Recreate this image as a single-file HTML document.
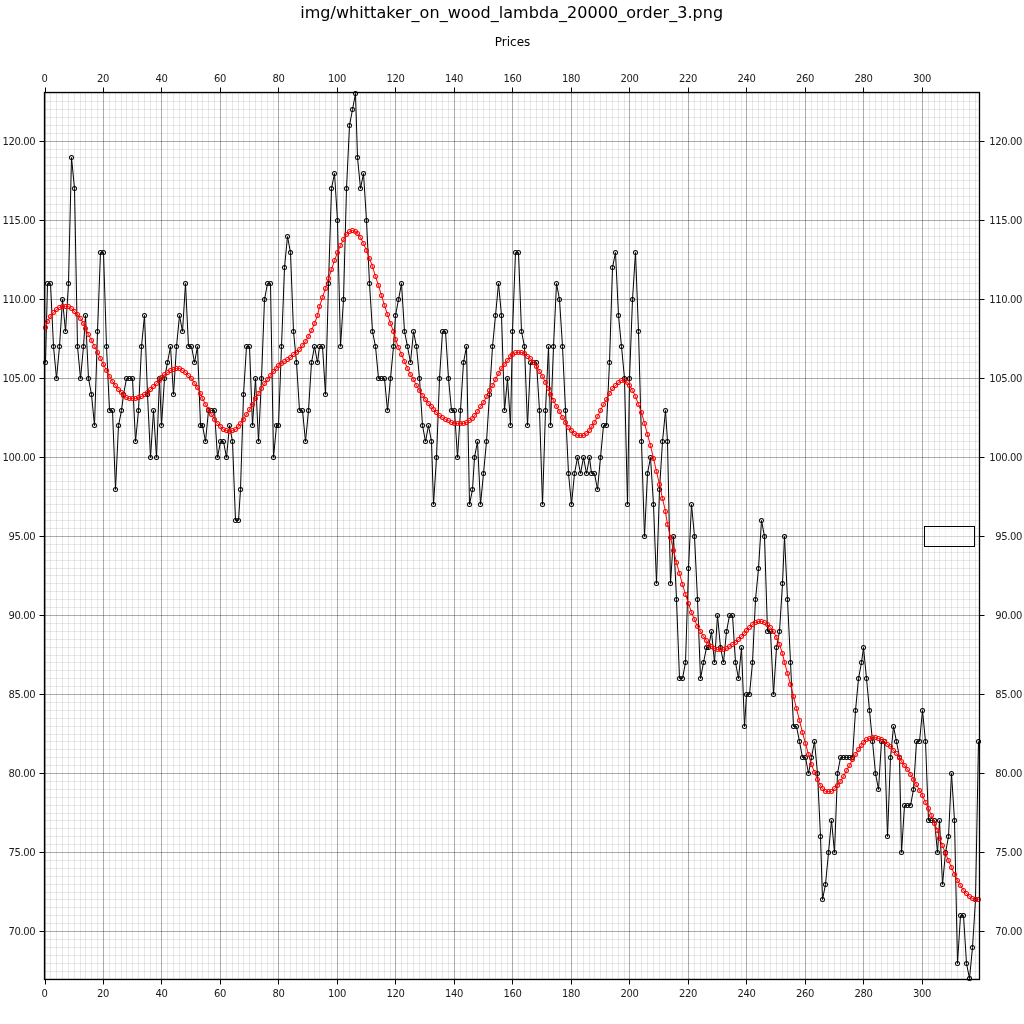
<!DOCTYPE html><html><head><meta charset="utf-8"><title>Prices</title><style>html,body{margin:0;padding:0;background:#fff}svg{display:block}</style></head><body><svg width="1024" height="1024" viewBox="0 0 1024 1024">
<rect width="1024" height="1024" fill="#fff"/>
<path d="M50.5 92.5V979.5M56.5 92.5V979.5M62.5 92.5V979.5M68.5 92.5V979.5M74.5 92.5V979.5M80.5 92.5V979.5M85.5 92.5V979.5M91.5 92.5V979.5M97.5 92.5V979.5M109.5 92.5V979.5M115.5 92.5V979.5M121.5 92.5V979.5M126.5 92.5V979.5M132.5 92.5V979.5M138.5 92.5V979.5M144.5 92.5V979.5M150.5 92.5V979.5M156.5 92.5V979.5M167.5 92.5V979.5M173.5 92.5V979.5M179.5 92.5V979.5M185.5 92.5V979.5M191.5 92.5V979.5M197.5 92.5V979.5M202.5 92.5V979.5M208.5 92.5V979.5M214.5 92.5V979.5M226.5 92.5V979.5M232.5 92.5V979.5M238.5 92.5V979.5M243.5 92.5V979.5M249.5 92.5V979.5M255.5 92.5V979.5M261.5 92.5V979.5M267.5 92.5V979.5M273.5 92.5V979.5M284.5 92.5V979.5M290.5 92.5V979.5M296.5 92.5V979.5M302.5 92.5V979.5M308.5 92.5V979.5M314.5 92.5V979.5M319.5 92.5V979.5M325.5 92.5V979.5M331.5 92.5V979.5M343.5 92.5V979.5M349.5 92.5V979.5M355.5 92.5V979.5M360.5 92.5V979.5M366.5 92.5V979.5M372.5 92.5V979.5M378.5 92.5V979.5M384.5 92.5V979.5M390.5 92.5V979.5M401.5 92.5V979.5M407.5 92.5V979.5M413.5 92.5V979.5M419.5 92.5V979.5M425.5 92.5V979.5M431.5 92.5V979.5M436.5 92.5V979.5M442.5 92.5V979.5M448.5 92.5V979.5M460.5 92.5V979.5M466.5 92.5V979.5M472.5 92.5V979.5M477.5 92.5V979.5M483.5 92.5V979.5M489.5 92.5V979.5M495.5 92.5V979.5M501.5 92.5V979.5M507.5 92.5V979.5M518.5 92.5V979.5M524.5 92.5V979.5M530.5 92.5V979.5M536.5 92.5V979.5M542.5 92.5V979.5M548.5 92.5V979.5M553.5 92.5V979.5M559.5 92.5V979.5M565.5 92.5V979.5M577.5 92.5V979.5M583.5 92.5V979.5M589.5 92.5V979.5M594.5 92.5V979.5M600.5 92.5V979.5M606.5 92.5V979.5M612.5 92.5V979.5M618.5 92.5V979.5M624.5 92.5V979.5M635.5 92.5V979.5M641.5 92.5V979.5M647.5 92.5V979.5M653.5 92.5V979.5M659.5 92.5V979.5M665.5 92.5V979.5M670.5 92.5V979.5M676.5 92.5V979.5M682.5 92.5V979.5M694.5 92.5V979.5M700.5 92.5V979.5M706.5 92.5V979.5M711.5 92.5V979.5M717.5 92.5V979.5M723.5 92.5V979.5M729.5 92.5V979.5M735.5 92.5V979.5M741.5 92.5V979.5M752.5 92.5V979.5M758.5 92.5V979.5M764.5 92.5V979.5M770.5 92.5V979.5M776.5 92.5V979.5M782.5 92.5V979.5M787.5 92.5V979.5M793.5 92.5V979.5M799.5 92.5V979.5M811.5 92.5V979.5M817.5 92.5V979.5M822.5 92.5V979.5M828.5 92.5V979.5M834.5 92.5V979.5M840.5 92.5V979.5M846.5 92.5V979.5M852.5 92.5V979.5M858.5 92.5V979.5M869.5 92.5V979.5M875.5 92.5V979.5M881.5 92.5V979.5M887.5 92.5V979.5M893.5 92.5V979.5M899.5 92.5V979.5M904.5 92.5V979.5M910.5 92.5V979.5M916.5 92.5V979.5M928.5 92.5V979.5M934.5 92.5V979.5M939.5 92.5V979.5M945.5 92.5V979.5M951.5 92.5V979.5M957.5 92.5V979.5M963.5 92.5V979.5M969.5 92.5V979.5M975.5 92.5V979.5" stroke="#000" stroke-opacity="0.09" stroke-width="1" fill="none"/>
<path d="M44.5 978.5H979.5M44.5 971.5H979.5M44.5 963.5H979.5M44.5 955.5H979.5M44.5 947.5H979.5M44.5 939.5H979.5M44.5 923.5H979.5M44.5 915.5H979.5M44.5 907.5H979.5M44.5 899.5H979.5M44.5 892.5H979.5M44.5 884.5H979.5M44.5 876.5H979.5M44.5 868.5H979.5M44.5 860.5H979.5M44.5 844.5H979.5M44.5 836.5H979.5M44.5 828.5H979.5M44.5 820.5H979.5M44.5 813.5H979.5M44.5 805.5H979.5M44.5 797.5H979.5M44.5 789.5H979.5M44.5 781.5H979.5M44.5 765.5H979.5M44.5 757.5H979.5M44.5 749.5H979.5M44.5 741.5H979.5M44.5 734.5H979.5M44.5 726.5H979.5M44.5 718.5H979.5M44.5 710.5H979.5M44.5 702.5H979.5M44.5 686.5H979.5M44.5 678.5H979.5M44.5 670.5H979.5M44.5 662.5H979.5M44.5 655.5H979.5M44.5 647.5H979.5M44.5 639.5H979.5M44.5 631.5H979.5M44.5 623.5H979.5M44.5 607.5H979.5M44.5 599.5H979.5M44.5 591.5H979.5M44.5 583.5H979.5M44.5 575.5H979.5M44.5 568.5H979.5M44.5 560.5H979.5M44.5 552.5H979.5M44.5 544.5H979.5M44.5 528.5H979.5M44.5 520.5H979.5M44.5 512.5H979.5M44.5 504.5H979.5M44.5 496.5H979.5M44.5 489.5H979.5M44.5 481.5H979.5M44.5 473.5H979.5M44.5 465.5H979.5M44.5 449.5H979.5M44.5 441.5H979.5M44.5 433.5H979.5M44.5 425.5H979.5M44.5 417.5H979.5M44.5 410.5H979.5M44.5 402.5H979.5M44.5 394.5H979.5M44.5 386.5H979.5M44.5 370.5H979.5M44.5 362.5H979.5M44.5 354.5H979.5M44.5 346.5H979.5M44.5 338.5H979.5M44.5 331.5H979.5M44.5 323.5H979.5M44.5 315.5H979.5M44.5 307.5H979.5M44.5 291.5H979.5M44.5 283.5H979.5M44.5 275.5H979.5M44.5 267.5H979.5M44.5 259.5H979.5M44.5 252.5H979.5M44.5 244.5H979.5M44.5 236.5H979.5M44.5 228.5H979.5M44.5 212.5H979.5M44.5 204.5H979.5M44.5 196.5H979.5M44.5 188.5H979.5M44.5 180.5H979.5M44.5 173.5H979.5M44.5 165.5H979.5M44.5 157.5H979.5M44.5 149.5H979.5M44.5 133.5H979.5M44.5 125.5H979.5M44.5 117.5H979.5M44.5 109.5H979.5M44.5 101.5H979.5M44.5 93.5H979.5" stroke="#000" stroke-opacity="0.09" stroke-width="1" fill="none"/>
<path d="M45.5 92.5V979.5M103.5 92.5V979.5M161.5 92.5V979.5M220.5 92.5V979.5M278.5 92.5V979.5M337.5 92.5V979.5M395.5 92.5V979.5M454.5 92.5V979.5M512.5 92.5V979.5M571.5 92.5V979.5M629.5 92.5V979.5M688.5 92.5V979.5M746.5 92.5V979.5M805.5 92.5V979.5M863.5 92.5V979.5M922.5 92.5V979.5" stroke="#000" stroke-opacity="0.33" stroke-width="1" fill="none"/>
<path d="M44.5 931.5H979.5M44.5 852.5H979.5M44.5 773.5H979.5M44.5 694.5H979.5M44.5 615.5H979.5M44.5 536.5H979.5M44.5 457.5H979.5M44.5 378.5H979.5M44.5 299.5H979.5M44.5 220.5H979.5M44.5 141.5H979.5" stroke="#000" stroke-opacity="0.33" stroke-width="1" fill="none"/>
<polyline points="45.5,362.5 47.5,283.5 50.5,283.5 53.5,346.5 56.5,378.5 59.5,346.5 62.5,299.5 65.5,331.5 68.5,283.5 71.5,157.5 74.5,188.5 77.5,346.5 80.5,378.5 83.5,346.5 85.5,315.5 88.5,378.5 91.5,394.5 94.5,425.5 97.5,331.5 100.5,252.5 103.5,252.5 106.5,346.5 109.5,410.5 112.5,410.5 115.5,489.5 118.5,425.5 121.5,410.5 123.5,394.5 126.5,378.5 129.5,378.5 132.5,378.5 135.5,441.5 138.5,410.5 141.5,346.5 144.5,315.5 147.5,394.5 150.5,457.5 153.5,410.5 156.5,457.5 159.5,378.5 161.5,425.5 164.5,378.5 167.5,362.5 170.5,346.5 173.5,394.5 176.5,346.5 179.5,315.5 182.5,331.5 185.5,283.5 188.5,346.5 191.5,346.5 194.5,362.5 197.5,346.5 200.5,425.5 202.5,425.5 205.5,441.5 208.5,410.5 211.5,410.5 214.5,410.5 217.5,457.5 220.5,441.5 223.5,441.5 226.5,457.5 229.5,425.5 232.5,441.5 235.5,520.5 238.5,520.5 240.5,489.5 243.5,394.5 246.5,346.5 249.5,346.5 252.5,425.5 255.5,378.5 258.5,441.5 261.5,378.5 264.5,299.5 267.5,283.5 270.5,283.5 273.5,457.5 276.5,425.5 278.5,425.5 281.5,346.5 284.5,267.5 287.5,236.5 290.5,252.5 293.5,331.5 296.5,362.5 299.5,410.5 302.5,410.5 305.5,441.5 308.5,410.5 311.5,362.5 314.5,346.5 317.5,362.5 319.5,346.5 322.5,346.5 325.5,394.5 328.5,283.5 331.5,188.5 334.5,173.5 337.5,220.5 340.5,346.5 343.5,299.5 346.5,188.5 349.5,125.5 352.5,109.5 355.5,93.5 357.5,157.5 360.5,188.5 363.5,173.5 366.5,220.5 369.5,283.5 372.5,331.5 375.5,346.5 378.5,378.5 381.5,378.5 384.5,378.5 387.5,410.5 390.5,378.5 393.5,346.5 395.5,315.5 398.5,299.5 401.5,283.5 404.5,331.5 407.5,346.5 410.5,362.5 413.5,331.5 416.5,346.5 419.5,378.5 422.5,425.5 425.5,441.5 428.5,425.5 431.5,441.5 433.5,504.5 436.5,457.5 439.5,378.5 442.5,331.5 445.5,331.5 448.5,378.5 451.5,410.5 454.5,410.5 457.5,457.5 460.5,410.5 463.5,362.5 466.5,346.5 469.5,504.5 472.5,489.5 474.5,457.5 477.5,441.5 480.5,504.5 483.5,473.5 486.5,441.5 489.5,394.5 492.5,346.5 495.5,315.5 498.5,283.5 501.5,315.5 504.5,410.5 507.5,378.5 510.5,425.5 512.5,331.5 515.5,252.5 518.5,252.5 521.5,331.5 524.5,346.5 527.5,425.5 530.5,362.5 533.5,362.5 536.5,362.5 539.5,410.5 542.5,504.5 545.5,410.5 548.5,346.5 550.5,425.5 553.5,346.5 556.5,283.5 559.5,299.5 562.5,346.5 565.5,410.5 568.5,473.5 571.5,504.5 574.5,473.5 577.5,457.5 580.5,473.5 583.5,457.5 586.5,473.5 589.5,457.5 591.5,473.5 594.5,473.5 597.5,489.5 600.5,457.5 603.5,425.5 606.5,425.5 609.5,362.5 612.5,267.5 615.5,252.5 618.5,315.5 621.5,346.5 624.5,378.5 627.5,504.5 629.5,378.5 632.5,299.5 635.5,252.5 638.5,331.5 641.5,441.5 644.5,536.5 647.5,473.5 650.5,457.5 653.5,504.5 656.5,583.5 659.5,489.5 662.5,441.5 665.5,410.5 667.5,441.5 670.5,583.5 673.5,536.5 676.5,599.5 679.5,678.5 682.5,678.5 685.5,662.5 688.5,568.5 691.5,504.5 694.5,536.5 697.5,599.5 700.5,678.5 703.5,662.5 706.5,647.5 708.5,647.5 711.5,631.5 714.5,662.5 717.5,615.5 720.5,647.5 723.5,662.5 726.5,631.5 729.5,615.5 732.5,615.5 735.5,662.5 738.5,678.5 741.5,647.5 744.5,726.5 746.5,694.5 749.5,694.5 752.5,662.5 755.5,599.5 758.5,568.5 761.5,520.5 764.5,536.5 767.5,631.5 770.5,631.5 773.5,694.5 776.5,647.5 779.5,631.5 782.5,583.5 784.5,536.5 787.5,599.5 790.5,662.5 793.5,726.5 796.5,726.5 799.5,741.5 802.5,757.5 805.5,757.5 808.5,773.5 811.5,757.5 814.5,741.5 817.5,773.5 820.5,836.5 822.5,899.5 825.5,884.5 828.5,852.5 831.5,820.5 834.5,852.5 837.5,773.5 840.5,757.5 843.5,757.5 846.5,757.5 849.5,757.5 852.5,757.5 855.5,710.5 858.5,678.5 861.5,662.5 863.5,647.5 866.5,678.5 869.5,710.5 872.5,741.5 875.5,773.5 878.5,789.5 881.5,741.5 884.5,741.5 887.5,836.5 890.5,757.5 893.5,726.5 896.5,741.5 899.5,757.5 901.5,852.5 904.5,805.5 907.5,805.5 910.5,805.5 913.5,789.5 916.5,741.5 919.5,741.5 922.5,710.5 925.5,741.5 928.5,820.5 931.5,820.5 934.5,820.5 937.5,852.5 939.5,820.5 942.5,884.5 945.5,852.5 948.5,836.5 951.5,773.5 954.5,820.5 957.5,963.5 960.5,915.5 963.5,915.5 966.5,963.5 969.5,978.5 972.5,947.5 975.5,899.5 978.5,741.5" stroke="#000" stroke-width="1.0" stroke-linejoin="round" fill="none"/><path d="M43 362.5a2.5 2.5 0 1 1 5 0a2.5 2.5 0 1 1 -5 0zM43.94 362.5a1.56 1.56 0 1 0 3.12 0a1.56 1.56 0 1 0 -3.12 0zM45 283.5a2.5 2.5 0 1 1 5 0a2.5 2.5 0 1 1 -5 0zM45.94 283.5a1.56 1.56 0 1 0 3.12 0a1.56 1.56 0 1 0 -3.12 0zM48 283.5a2.5 2.5 0 1 1 5 0a2.5 2.5 0 1 1 -5 0zM48.94 283.5a1.56 1.56 0 1 0 3.12 0a1.56 1.56 0 1 0 -3.12 0zM51 346.5a2.5 2.5 0 1 1 5 0a2.5 2.5 0 1 1 -5 0zM51.94 346.5a1.56 1.56 0 1 0 3.12 0a1.56 1.56 0 1 0 -3.12 0zM54 378.5a2.5 2.5 0 1 1 5 0a2.5 2.5 0 1 1 -5 0zM54.94 378.5a1.56 1.56 0 1 0 3.12 0a1.56 1.56 0 1 0 -3.12 0zM57 346.5a2.5 2.5 0 1 1 5 0a2.5 2.5 0 1 1 -5 0zM57.94 346.5a1.56 1.56 0 1 0 3.12 0a1.56 1.56 0 1 0 -3.12 0zM60 299.5a2.5 2.5 0 1 1 5 0a2.5 2.5 0 1 1 -5 0zM60.94 299.5a1.56 1.56 0 1 0 3.12 0a1.56 1.56 0 1 0 -3.12 0zM63 331.5a2.5 2.5 0 1 1 5 0a2.5 2.5 0 1 1 -5 0zM63.94 331.5a1.56 1.56 0 1 0 3.12 0a1.56 1.56 0 1 0 -3.12 0zM66 283.5a2.5 2.5 0 1 1 5 0a2.5 2.5 0 1 1 -5 0zM66.94 283.5a1.56 1.56 0 1 0 3.12 0a1.56 1.56 0 1 0 -3.12 0zM69 157.5a2.5 2.5 0 1 1 5 0a2.5 2.5 0 1 1 -5 0zM69.94 157.5a1.56 1.56 0 1 0 3.12 0a1.56 1.56 0 1 0 -3.12 0zM72 188.5a2.5 2.5 0 1 1 5 0a2.5 2.5 0 1 1 -5 0zM72.94 188.5a1.56 1.56 0 1 0 3.12 0a1.56 1.56 0 1 0 -3.12 0zM75 346.5a2.5 2.5 0 1 1 5 0a2.5 2.5 0 1 1 -5 0zM75.94 346.5a1.56 1.56 0 1 0 3.12 0a1.56 1.56 0 1 0 -3.12 0zM78 378.5a2.5 2.5 0 1 1 5 0a2.5 2.5 0 1 1 -5 0zM78.94 378.5a1.56 1.56 0 1 0 3.12 0a1.56 1.56 0 1 0 -3.12 0zM81 346.5a2.5 2.5 0 1 1 5 0a2.5 2.5 0 1 1 -5 0zM81.94 346.5a1.56 1.56 0 1 0 3.12 0a1.56 1.56 0 1 0 -3.12 0zM83 315.5a2.5 2.5 0 1 1 5 0a2.5 2.5 0 1 1 -5 0zM83.94 315.5a1.56 1.56 0 1 0 3.12 0a1.56 1.56 0 1 0 -3.12 0zM86 378.5a2.5 2.5 0 1 1 5 0a2.5 2.5 0 1 1 -5 0zM86.94 378.5a1.56 1.56 0 1 0 3.12 0a1.56 1.56 0 1 0 -3.12 0zM89 394.5a2.5 2.5 0 1 1 5 0a2.5 2.5 0 1 1 -5 0zM89.94 394.5a1.56 1.56 0 1 0 3.12 0a1.56 1.56 0 1 0 -3.12 0zM92 425.5a2.5 2.5 0 1 1 5 0a2.5 2.5 0 1 1 -5 0zM92.94 425.5a1.56 1.56 0 1 0 3.12 0a1.56 1.56 0 1 0 -3.12 0zM95 331.5a2.5 2.5 0 1 1 5 0a2.5 2.5 0 1 1 -5 0zM95.94 331.5a1.56 1.56 0 1 0 3.12 0a1.56 1.56 0 1 0 -3.12 0zM98 252.5a2.5 2.5 0 1 1 5 0a2.5 2.5 0 1 1 -5 0zM98.94 252.5a1.56 1.56 0 1 0 3.12 0a1.56 1.56 0 1 0 -3.12 0zM101 252.5a2.5 2.5 0 1 1 5 0a2.5 2.5 0 1 1 -5 0zM101.94 252.5a1.56 1.56 0 1 0 3.12 0a1.56 1.56 0 1 0 -3.12 0zM104 346.5a2.5 2.5 0 1 1 5 0a2.5 2.5 0 1 1 -5 0zM104.94 346.5a1.56 1.56 0 1 0 3.12 0a1.56 1.56 0 1 0 -3.12 0zM107 410.5a2.5 2.5 0 1 1 5 0a2.5 2.5 0 1 1 -5 0zM107.94 410.5a1.56 1.56 0 1 0 3.12 0a1.56 1.56 0 1 0 -3.12 0zM110 410.5a2.5 2.5 0 1 1 5 0a2.5 2.5 0 1 1 -5 0zM110.94 410.5a1.56 1.56 0 1 0 3.12 0a1.56 1.56 0 1 0 -3.12 0zM113 489.5a2.5 2.5 0 1 1 5 0a2.5 2.5 0 1 1 -5 0zM113.94 489.5a1.56 1.56 0 1 0 3.12 0a1.56 1.56 0 1 0 -3.12 0zM116 425.5a2.5 2.5 0 1 1 5 0a2.5 2.5 0 1 1 -5 0zM116.94 425.5a1.56 1.56 0 1 0 3.12 0a1.56 1.56 0 1 0 -3.12 0zM119 410.5a2.5 2.5 0 1 1 5 0a2.5 2.5 0 1 1 -5 0zM119.94 410.5a1.56 1.56 0 1 0 3.12 0a1.56 1.56 0 1 0 -3.12 0zM121 394.5a2.5 2.5 0 1 1 5 0a2.5 2.5 0 1 1 -5 0zM121.94 394.5a1.56 1.56 0 1 0 3.12 0a1.56 1.56 0 1 0 -3.12 0zM124 378.5a2.5 2.5 0 1 1 5 0a2.5 2.5 0 1 1 -5 0zM124.94 378.5a1.56 1.56 0 1 0 3.12 0a1.56 1.56 0 1 0 -3.12 0zM127 378.5a2.5 2.5 0 1 1 5 0a2.5 2.5 0 1 1 -5 0zM127.94 378.5a1.56 1.56 0 1 0 3.12 0a1.56 1.56 0 1 0 -3.12 0zM130 378.5a2.5 2.5 0 1 1 5 0a2.5 2.5 0 1 1 -5 0zM130.94 378.5a1.56 1.56 0 1 0 3.12 0a1.56 1.56 0 1 0 -3.12 0zM133 441.5a2.5 2.5 0 1 1 5 0a2.5 2.5 0 1 1 -5 0zM133.94 441.5a1.56 1.56 0 1 0 3.12 0a1.56 1.56 0 1 0 -3.12 0zM136 410.5a2.5 2.5 0 1 1 5 0a2.5 2.5 0 1 1 -5 0zM136.94 410.5a1.56 1.56 0 1 0 3.12 0a1.56 1.56 0 1 0 -3.12 0zM139 346.5a2.5 2.5 0 1 1 5 0a2.5 2.5 0 1 1 -5 0zM139.94 346.5a1.56 1.56 0 1 0 3.12 0a1.56 1.56 0 1 0 -3.12 0zM142 315.5a2.5 2.5 0 1 1 5 0a2.5 2.5 0 1 1 -5 0zM142.94 315.5a1.56 1.56 0 1 0 3.12 0a1.56 1.56 0 1 0 -3.12 0zM145 394.5a2.5 2.5 0 1 1 5 0a2.5 2.5 0 1 1 -5 0zM145.94 394.5a1.56 1.56 0 1 0 3.12 0a1.56 1.56 0 1 0 -3.12 0zM148 457.5a2.5 2.5 0 1 1 5 0a2.5 2.5 0 1 1 -5 0zM148.94 457.5a1.56 1.56 0 1 0 3.12 0a1.56 1.56 0 1 0 -3.12 0zM151 410.5a2.5 2.5 0 1 1 5 0a2.5 2.5 0 1 1 -5 0zM151.94 410.5a1.56 1.56 0 1 0 3.12 0a1.56 1.56 0 1 0 -3.12 0zM154 457.5a2.5 2.5 0 1 1 5 0a2.5 2.5 0 1 1 -5 0zM154.94 457.5a1.56 1.56 0 1 0 3.12 0a1.56 1.56 0 1 0 -3.12 0zM157 378.5a2.5 2.5 0 1 1 5 0a2.5 2.5 0 1 1 -5 0zM157.94 378.5a1.56 1.56 0 1 0 3.12 0a1.56 1.56 0 1 0 -3.12 0zM159 425.5a2.5 2.5 0 1 1 5 0a2.5 2.5 0 1 1 -5 0zM159.94 425.5a1.56 1.56 0 1 0 3.12 0a1.56 1.56 0 1 0 -3.12 0zM162 378.5a2.5 2.5 0 1 1 5 0a2.5 2.5 0 1 1 -5 0zM162.94 378.5a1.56 1.56 0 1 0 3.12 0a1.56 1.56 0 1 0 -3.12 0zM165 362.5a2.5 2.5 0 1 1 5 0a2.5 2.5 0 1 1 -5 0zM165.94 362.5a1.56 1.56 0 1 0 3.12 0a1.56 1.56 0 1 0 -3.12 0zM168 346.5a2.5 2.5 0 1 1 5 0a2.5 2.5 0 1 1 -5 0zM168.94 346.5a1.56 1.56 0 1 0 3.12 0a1.56 1.56 0 1 0 -3.12 0zM171 394.5a2.5 2.5 0 1 1 5 0a2.5 2.5 0 1 1 -5 0zM171.94 394.5a1.56 1.56 0 1 0 3.12 0a1.56 1.56 0 1 0 -3.12 0zM174 346.5a2.5 2.5 0 1 1 5 0a2.5 2.5 0 1 1 -5 0zM174.94 346.5a1.56 1.56 0 1 0 3.12 0a1.56 1.56 0 1 0 -3.12 0zM177 315.5a2.5 2.5 0 1 1 5 0a2.5 2.5 0 1 1 -5 0zM177.94 315.5a1.56 1.56 0 1 0 3.12 0a1.56 1.56 0 1 0 -3.12 0zM180 331.5a2.5 2.5 0 1 1 5 0a2.5 2.5 0 1 1 -5 0zM180.94 331.5a1.56 1.56 0 1 0 3.12 0a1.56 1.56 0 1 0 -3.12 0zM183 283.5a2.5 2.5 0 1 1 5 0a2.5 2.5 0 1 1 -5 0zM183.94 283.5a1.56 1.56 0 1 0 3.12 0a1.56 1.56 0 1 0 -3.12 0zM186 346.5a2.5 2.5 0 1 1 5 0a2.5 2.5 0 1 1 -5 0zM186.94 346.5a1.56 1.56 0 1 0 3.12 0a1.56 1.56 0 1 0 -3.12 0zM189 346.5a2.5 2.5 0 1 1 5 0a2.5 2.5 0 1 1 -5 0zM189.94 346.5a1.56 1.56 0 1 0 3.12 0a1.56 1.56 0 1 0 -3.12 0zM192 362.5a2.5 2.5 0 1 1 5 0a2.5 2.5 0 1 1 -5 0zM192.94 362.5a1.56 1.56 0 1 0 3.12 0a1.56 1.56 0 1 0 -3.12 0zM195 346.5a2.5 2.5 0 1 1 5 0a2.5 2.5 0 1 1 -5 0zM195.94 346.5a1.56 1.56 0 1 0 3.12 0a1.56 1.56 0 1 0 -3.12 0zM198 425.5a2.5 2.5 0 1 1 5 0a2.5 2.5 0 1 1 -5 0zM198.94 425.5a1.56 1.56 0 1 0 3.12 0a1.56 1.56 0 1 0 -3.12 0zM200 425.5a2.5 2.5 0 1 1 5 0a2.5 2.5 0 1 1 -5 0zM200.94 425.5a1.56 1.56 0 1 0 3.12 0a1.56 1.56 0 1 0 -3.12 0zM203 441.5a2.5 2.5 0 1 1 5 0a2.5 2.5 0 1 1 -5 0zM203.94 441.5a1.56 1.56 0 1 0 3.12 0a1.56 1.56 0 1 0 -3.12 0zM206 410.5a2.5 2.5 0 1 1 5 0a2.5 2.5 0 1 1 -5 0zM206.94 410.5a1.56 1.56 0 1 0 3.12 0a1.56 1.56 0 1 0 -3.12 0zM209 410.5a2.5 2.5 0 1 1 5 0a2.5 2.5 0 1 1 -5 0zM209.94 410.5a1.56 1.56 0 1 0 3.12 0a1.56 1.56 0 1 0 -3.12 0zM212 410.5a2.5 2.5 0 1 1 5 0a2.5 2.5 0 1 1 -5 0zM212.94 410.5a1.56 1.56 0 1 0 3.12 0a1.56 1.56 0 1 0 -3.12 0zM215 457.5a2.5 2.5 0 1 1 5 0a2.5 2.5 0 1 1 -5 0zM215.94 457.5a1.56 1.56 0 1 0 3.12 0a1.56 1.56 0 1 0 -3.12 0zM218 441.5a2.5 2.5 0 1 1 5 0a2.5 2.5 0 1 1 -5 0zM218.94 441.5a1.56 1.56 0 1 0 3.12 0a1.56 1.56 0 1 0 -3.12 0zM221 441.5a2.5 2.5 0 1 1 5 0a2.5 2.5 0 1 1 -5 0zM221.94 441.5a1.56 1.56 0 1 0 3.12 0a1.56 1.56 0 1 0 -3.12 0zM224 457.5a2.5 2.5 0 1 1 5 0a2.5 2.5 0 1 1 -5 0zM224.94 457.5a1.56 1.56 0 1 0 3.12 0a1.56 1.56 0 1 0 -3.12 0zM227 425.5a2.5 2.5 0 1 1 5 0a2.5 2.5 0 1 1 -5 0zM227.94 425.5a1.56 1.56 0 1 0 3.12 0a1.56 1.56 0 1 0 -3.12 0zM230 441.5a2.5 2.5 0 1 1 5 0a2.5 2.5 0 1 1 -5 0zM230.94 441.5a1.56 1.56 0 1 0 3.12 0a1.56 1.56 0 1 0 -3.12 0zM233 520.5a2.5 2.5 0 1 1 5 0a2.5 2.5 0 1 1 -5 0zM233.94 520.5a1.56 1.56 0 1 0 3.12 0a1.56 1.56 0 1 0 -3.12 0zM236 520.5a2.5 2.5 0 1 1 5 0a2.5 2.5 0 1 1 -5 0zM236.94 520.5a1.56 1.56 0 1 0 3.12 0a1.56 1.56 0 1 0 -3.12 0zM238 489.5a2.5 2.5 0 1 1 5 0a2.5 2.5 0 1 1 -5 0zM238.94 489.5a1.56 1.56 0 1 0 3.12 0a1.56 1.56 0 1 0 -3.12 0zM241 394.5a2.5 2.5 0 1 1 5 0a2.5 2.5 0 1 1 -5 0zM241.94 394.5a1.56 1.56 0 1 0 3.12 0a1.56 1.56 0 1 0 -3.12 0zM244 346.5a2.5 2.5 0 1 1 5 0a2.5 2.5 0 1 1 -5 0zM244.94 346.5a1.56 1.56 0 1 0 3.12 0a1.56 1.56 0 1 0 -3.12 0zM247 346.5a2.5 2.5 0 1 1 5 0a2.5 2.5 0 1 1 -5 0zM247.94 346.5a1.56 1.56 0 1 0 3.12 0a1.56 1.56 0 1 0 -3.12 0zM250 425.5a2.5 2.5 0 1 1 5 0a2.5 2.5 0 1 1 -5 0zM250.94 425.5a1.56 1.56 0 1 0 3.12 0a1.56 1.56 0 1 0 -3.12 0zM253 378.5a2.5 2.5 0 1 1 5 0a2.5 2.5 0 1 1 -5 0zM253.94 378.5a1.56 1.56 0 1 0 3.12 0a1.56 1.56 0 1 0 -3.12 0zM256 441.5a2.5 2.5 0 1 1 5 0a2.5 2.5 0 1 1 -5 0zM256.94 441.5a1.56 1.56 0 1 0 3.12 0a1.56 1.56 0 1 0 -3.12 0zM259 378.5a2.5 2.5 0 1 1 5 0a2.5 2.5 0 1 1 -5 0zM259.94 378.5a1.56 1.56 0 1 0 3.12 0a1.56 1.56 0 1 0 -3.12 0zM262 299.5a2.5 2.5 0 1 1 5 0a2.5 2.5 0 1 1 -5 0zM262.94 299.5a1.56 1.56 0 1 0 3.12 0a1.56 1.56 0 1 0 -3.12 0zM265 283.5a2.5 2.5 0 1 1 5 0a2.5 2.5 0 1 1 -5 0zM265.94 283.5a1.56 1.56 0 1 0 3.12 0a1.56 1.56 0 1 0 -3.12 0zM268 283.5a2.5 2.5 0 1 1 5 0a2.5 2.5 0 1 1 -5 0zM268.94 283.5a1.56 1.56 0 1 0 3.12 0a1.56 1.56 0 1 0 -3.12 0zM271 457.5a2.5 2.5 0 1 1 5 0a2.5 2.5 0 1 1 -5 0zM271.94 457.5a1.56 1.56 0 1 0 3.12 0a1.56 1.56 0 1 0 -3.12 0zM274 425.5a2.5 2.5 0 1 1 5 0a2.5 2.5 0 1 1 -5 0zM274.94 425.5a1.56 1.56 0 1 0 3.12 0a1.56 1.56 0 1 0 -3.12 0zM276 425.5a2.5 2.5 0 1 1 5 0a2.5 2.5 0 1 1 -5 0zM276.94 425.5a1.56 1.56 0 1 0 3.12 0a1.56 1.56 0 1 0 -3.12 0zM279 346.5a2.5 2.5 0 1 1 5 0a2.5 2.5 0 1 1 -5 0zM279.94 346.5a1.56 1.56 0 1 0 3.12 0a1.56 1.56 0 1 0 -3.12 0zM282 267.5a2.5 2.5 0 1 1 5 0a2.5 2.5 0 1 1 -5 0zM282.94 267.5a1.56 1.56 0 1 0 3.12 0a1.56 1.56 0 1 0 -3.12 0zM285 236.5a2.5 2.5 0 1 1 5 0a2.5 2.5 0 1 1 -5 0zM285.94 236.5a1.56 1.56 0 1 0 3.12 0a1.56 1.56 0 1 0 -3.12 0zM288 252.5a2.5 2.5 0 1 1 5 0a2.5 2.5 0 1 1 -5 0zM288.94 252.5a1.56 1.56 0 1 0 3.12 0a1.56 1.56 0 1 0 -3.12 0zM291 331.5a2.5 2.5 0 1 1 5 0a2.5 2.5 0 1 1 -5 0zM291.94 331.5a1.56 1.56 0 1 0 3.12 0a1.56 1.56 0 1 0 -3.12 0zM294 362.5a2.5 2.5 0 1 1 5 0a2.5 2.5 0 1 1 -5 0zM294.94 362.5a1.56 1.56 0 1 0 3.12 0a1.56 1.56 0 1 0 -3.12 0zM297 410.5a2.5 2.5 0 1 1 5 0a2.5 2.5 0 1 1 -5 0zM297.94 410.5a1.56 1.56 0 1 0 3.12 0a1.56 1.56 0 1 0 -3.12 0zM300 410.5a2.5 2.5 0 1 1 5 0a2.5 2.5 0 1 1 -5 0zM300.94 410.5a1.56 1.56 0 1 0 3.12 0a1.56 1.56 0 1 0 -3.12 0zM303 441.5a2.5 2.5 0 1 1 5 0a2.5 2.5 0 1 1 -5 0zM303.94 441.5a1.56 1.56 0 1 0 3.12 0a1.56 1.56 0 1 0 -3.12 0zM306 410.5a2.5 2.5 0 1 1 5 0a2.5 2.5 0 1 1 -5 0zM306.94 410.5a1.56 1.56 0 1 0 3.12 0a1.56 1.56 0 1 0 -3.12 0zM309 362.5a2.5 2.5 0 1 1 5 0a2.5 2.5 0 1 1 -5 0zM309.94 362.5a1.56 1.56 0 1 0 3.12 0a1.56 1.56 0 1 0 -3.12 0zM312 346.5a2.5 2.5 0 1 1 5 0a2.5 2.5 0 1 1 -5 0zM312.94 346.5a1.56 1.56 0 1 0 3.12 0a1.56 1.56 0 1 0 -3.12 0zM315 362.5a2.5 2.5 0 1 1 5 0a2.5 2.5 0 1 1 -5 0zM315.94 362.5a1.56 1.56 0 1 0 3.12 0a1.56 1.56 0 1 0 -3.12 0zM317 346.5a2.5 2.5 0 1 1 5 0a2.5 2.5 0 1 1 -5 0zM317.94 346.5a1.56 1.56 0 1 0 3.12 0a1.56 1.56 0 1 0 -3.12 0zM320 346.5a2.5 2.5 0 1 1 5 0a2.5 2.5 0 1 1 -5 0zM320.94 346.5a1.56 1.56 0 1 0 3.12 0a1.56 1.56 0 1 0 -3.12 0zM323 394.5a2.5 2.5 0 1 1 5 0a2.5 2.5 0 1 1 -5 0zM323.94 394.5a1.56 1.56 0 1 0 3.12 0a1.56 1.56 0 1 0 -3.12 0zM326 283.5a2.5 2.5 0 1 1 5 0a2.5 2.5 0 1 1 -5 0zM326.94 283.5a1.56 1.56 0 1 0 3.12 0a1.56 1.56 0 1 0 -3.12 0zM329 188.5a2.5 2.5 0 1 1 5 0a2.5 2.5 0 1 1 -5 0zM329.94 188.5a1.56 1.56 0 1 0 3.12 0a1.56 1.56 0 1 0 -3.12 0zM332 173.5a2.5 2.5 0 1 1 5 0a2.5 2.5 0 1 1 -5 0zM332.94 173.5a1.56 1.56 0 1 0 3.12 0a1.56 1.56 0 1 0 -3.12 0zM335 220.5a2.5 2.5 0 1 1 5 0a2.5 2.5 0 1 1 -5 0zM335.94 220.5a1.56 1.56 0 1 0 3.12 0a1.56 1.56 0 1 0 -3.12 0zM338 346.5a2.5 2.5 0 1 1 5 0a2.5 2.5 0 1 1 -5 0zM338.94 346.5a1.56 1.56 0 1 0 3.12 0a1.56 1.56 0 1 0 -3.12 0zM341 299.5a2.5 2.5 0 1 1 5 0a2.5 2.5 0 1 1 -5 0zM341.94 299.5a1.56 1.56 0 1 0 3.12 0a1.56 1.56 0 1 0 -3.12 0zM344 188.5a2.5 2.5 0 1 1 5 0a2.5 2.5 0 1 1 -5 0zM344.94 188.5a1.56 1.56 0 1 0 3.12 0a1.56 1.56 0 1 0 -3.12 0zM347 125.5a2.5 2.5 0 1 1 5 0a2.5 2.5 0 1 1 -5 0zM347.94 125.5a1.56 1.56 0 1 0 3.12 0a1.56 1.56 0 1 0 -3.12 0zM350 109.5a2.5 2.5 0 1 1 5 0a2.5 2.5 0 1 1 -5 0zM350.94 109.5a1.56 1.56 0 1 0 3.12 0a1.56 1.56 0 1 0 -3.12 0zM353 93.5a2.5 2.5 0 1 1 5 0a2.5 2.5 0 1 1 -5 0zM353.94 93.5a1.56 1.56 0 1 0 3.12 0a1.56 1.56 0 1 0 -3.12 0zM355 157.5a2.5 2.5 0 1 1 5 0a2.5 2.5 0 1 1 -5 0zM355.94 157.5a1.56 1.56 0 1 0 3.12 0a1.56 1.56 0 1 0 -3.12 0zM358 188.5a2.5 2.5 0 1 1 5 0a2.5 2.5 0 1 1 -5 0zM358.94 188.5a1.56 1.56 0 1 0 3.12 0a1.56 1.56 0 1 0 -3.12 0zM361 173.5a2.5 2.5 0 1 1 5 0a2.5 2.5 0 1 1 -5 0zM361.94 173.5a1.56 1.56 0 1 0 3.12 0a1.56 1.56 0 1 0 -3.12 0zM364 220.5a2.5 2.5 0 1 1 5 0a2.5 2.5 0 1 1 -5 0zM364.94 220.5a1.56 1.56 0 1 0 3.12 0a1.56 1.56 0 1 0 -3.12 0zM367 283.5a2.5 2.5 0 1 1 5 0a2.5 2.5 0 1 1 -5 0zM367.94 283.5a1.56 1.56 0 1 0 3.12 0a1.56 1.56 0 1 0 -3.12 0zM370 331.5a2.5 2.5 0 1 1 5 0a2.5 2.5 0 1 1 -5 0zM370.94 331.5a1.56 1.56 0 1 0 3.12 0a1.56 1.56 0 1 0 -3.12 0zM373 346.5a2.5 2.5 0 1 1 5 0a2.5 2.5 0 1 1 -5 0zM373.94 346.5a1.56 1.56 0 1 0 3.12 0a1.56 1.56 0 1 0 -3.12 0zM376 378.5a2.5 2.5 0 1 1 5 0a2.5 2.5 0 1 1 -5 0zM376.94 378.5a1.56 1.56 0 1 0 3.12 0a1.56 1.56 0 1 0 -3.12 0zM379 378.5a2.5 2.5 0 1 1 5 0a2.5 2.5 0 1 1 -5 0zM379.94 378.5a1.56 1.56 0 1 0 3.12 0a1.56 1.56 0 1 0 -3.12 0zM382 378.5a2.5 2.5 0 1 1 5 0a2.5 2.5 0 1 1 -5 0zM382.94 378.5a1.56 1.56 0 1 0 3.12 0a1.56 1.56 0 1 0 -3.12 0zM385 410.5a2.5 2.5 0 1 1 5 0a2.5 2.5 0 1 1 -5 0zM385.94 410.5a1.56 1.56 0 1 0 3.12 0a1.56 1.56 0 1 0 -3.12 0zM388 378.5a2.5 2.5 0 1 1 5 0a2.5 2.5 0 1 1 -5 0zM388.94 378.5a1.56 1.56 0 1 0 3.12 0a1.56 1.56 0 1 0 -3.12 0zM391 346.5a2.5 2.5 0 1 1 5 0a2.5 2.5 0 1 1 -5 0zM391.94 346.5a1.56 1.56 0 1 0 3.12 0a1.56 1.56 0 1 0 -3.12 0zM393 315.5a2.5 2.5 0 1 1 5 0a2.5 2.5 0 1 1 -5 0zM393.94 315.5a1.56 1.56 0 1 0 3.12 0a1.56 1.56 0 1 0 -3.12 0zM396 299.5a2.5 2.5 0 1 1 5 0a2.5 2.5 0 1 1 -5 0zM396.94 299.5a1.56 1.56 0 1 0 3.12 0a1.56 1.56 0 1 0 -3.12 0zM399 283.5a2.5 2.5 0 1 1 5 0a2.5 2.5 0 1 1 -5 0zM399.94 283.5a1.56 1.56 0 1 0 3.12 0a1.56 1.56 0 1 0 -3.12 0zM402 331.5a2.5 2.5 0 1 1 5 0a2.5 2.5 0 1 1 -5 0zM402.94 331.5a1.56 1.56 0 1 0 3.12 0a1.56 1.56 0 1 0 -3.12 0zM405 346.5a2.5 2.5 0 1 1 5 0a2.5 2.5 0 1 1 -5 0zM405.94 346.5a1.56 1.56 0 1 0 3.12 0a1.56 1.56 0 1 0 -3.12 0zM408 362.5a2.5 2.5 0 1 1 5 0a2.5 2.5 0 1 1 -5 0zM408.94 362.5a1.56 1.56 0 1 0 3.12 0a1.56 1.56 0 1 0 -3.12 0zM411 331.5a2.5 2.5 0 1 1 5 0a2.5 2.5 0 1 1 -5 0zM411.94 331.5a1.56 1.56 0 1 0 3.12 0a1.56 1.56 0 1 0 -3.12 0zM414 346.5a2.5 2.5 0 1 1 5 0a2.5 2.5 0 1 1 -5 0zM414.94 346.5a1.56 1.56 0 1 0 3.12 0a1.56 1.56 0 1 0 -3.12 0zM417 378.5a2.5 2.5 0 1 1 5 0a2.5 2.5 0 1 1 -5 0zM417.94 378.5a1.56 1.56 0 1 0 3.12 0a1.56 1.56 0 1 0 -3.12 0zM420 425.5a2.5 2.5 0 1 1 5 0a2.5 2.5 0 1 1 -5 0zM420.94 425.5a1.56 1.56 0 1 0 3.12 0a1.56 1.56 0 1 0 -3.12 0zM423 441.5a2.5 2.5 0 1 1 5 0a2.5 2.5 0 1 1 -5 0zM423.94 441.5a1.56 1.56 0 1 0 3.12 0a1.56 1.56 0 1 0 -3.12 0zM426 425.5a2.5 2.5 0 1 1 5 0a2.5 2.5 0 1 1 -5 0zM426.94 425.5a1.56 1.56 0 1 0 3.12 0a1.56 1.56 0 1 0 -3.12 0zM429 441.5a2.5 2.5 0 1 1 5 0a2.5 2.5 0 1 1 -5 0zM429.94 441.5a1.56 1.56 0 1 0 3.12 0a1.56 1.56 0 1 0 -3.12 0zM431 504.5a2.5 2.5 0 1 1 5 0a2.5 2.5 0 1 1 -5 0zM431.94 504.5a1.56 1.56 0 1 0 3.12 0a1.56 1.56 0 1 0 -3.12 0zM434 457.5a2.5 2.5 0 1 1 5 0a2.5 2.5 0 1 1 -5 0zM434.94 457.5a1.56 1.56 0 1 0 3.12 0a1.56 1.56 0 1 0 -3.12 0zM437 378.5a2.5 2.5 0 1 1 5 0a2.5 2.5 0 1 1 -5 0zM437.94 378.5a1.56 1.56 0 1 0 3.12 0a1.56 1.56 0 1 0 -3.12 0zM440 331.5a2.5 2.5 0 1 1 5 0a2.5 2.5 0 1 1 -5 0zM440.94 331.5a1.56 1.56 0 1 0 3.12 0a1.56 1.56 0 1 0 -3.12 0zM443 331.5a2.5 2.5 0 1 1 5 0a2.5 2.5 0 1 1 -5 0zM443.94 331.5a1.56 1.56 0 1 0 3.12 0a1.56 1.56 0 1 0 -3.12 0zM446 378.5a2.5 2.5 0 1 1 5 0a2.5 2.5 0 1 1 -5 0zM446.94 378.5a1.56 1.56 0 1 0 3.12 0a1.56 1.56 0 1 0 -3.12 0zM449 410.5a2.5 2.5 0 1 1 5 0a2.5 2.5 0 1 1 -5 0zM449.94 410.5a1.56 1.56 0 1 0 3.12 0a1.56 1.56 0 1 0 -3.12 0zM452 410.5a2.5 2.5 0 1 1 5 0a2.5 2.5 0 1 1 -5 0zM452.94 410.5a1.56 1.56 0 1 0 3.12 0a1.56 1.56 0 1 0 -3.12 0zM455 457.5a2.5 2.5 0 1 1 5 0a2.5 2.5 0 1 1 -5 0zM455.94 457.5a1.56 1.56 0 1 0 3.12 0a1.56 1.56 0 1 0 -3.12 0zM458 410.5a2.5 2.5 0 1 1 5 0a2.5 2.5 0 1 1 -5 0zM458.94 410.5a1.56 1.56 0 1 0 3.12 0a1.56 1.56 0 1 0 -3.12 0zM461 362.5a2.5 2.5 0 1 1 5 0a2.5 2.5 0 1 1 -5 0zM461.94 362.5a1.56 1.56 0 1 0 3.12 0a1.56 1.56 0 1 0 -3.12 0zM464 346.5a2.5 2.5 0 1 1 5 0a2.5 2.5 0 1 1 -5 0zM464.94 346.5a1.56 1.56 0 1 0 3.12 0a1.56 1.56 0 1 0 -3.12 0zM467 504.5a2.5 2.5 0 1 1 5 0a2.5 2.5 0 1 1 -5 0zM467.94 504.5a1.56 1.56 0 1 0 3.12 0a1.56 1.56 0 1 0 -3.12 0zM470 489.5a2.5 2.5 0 1 1 5 0a2.5 2.5 0 1 1 -5 0zM470.94 489.5a1.56 1.56 0 1 0 3.12 0a1.56 1.56 0 1 0 -3.12 0zM472 457.5a2.5 2.5 0 1 1 5 0a2.5 2.5 0 1 1 -5 0zM472.94 457.5a1.56 1.56 0 1 0 3.12 0a1.56 1.56 0 1 0 -3.12 0zM475 441.5a2.5 2.5 0 1 1 5 0a2.5 2.5 0 1 1 -5 0zM475.94 441.5a1.56 1.56 0 1 0 3.12 0a1.56 1.56 0 1 0 -3.12 0zM478 504.5a2.5 2.5 0 1 1 5 0a2.5 2.5 0 1 1 -5 0zM478.94 504.5a1.56 1.56 0 1 0 3.12 0a1.56 1.56 0 1 0 -3.12 0zM481 473.5a2.5 2.5 0 1 1 5 0a2.5 2.5 0 1 1 -5 0zM481.94 473.5a1.56 1.56 0 1 0 3.12 0a1.56 1.56 0 1 0 -3.12 0zM484 441.5a2.5 2.5 0 1 1 5 0a2.5 2.5 0 1 1 -5 0zM484.94 441.5a1.56 1.56 0 1 0 3.12 0a1.56 1.56 0 1 0 -3.12 0zM487 394.5a2.5 2.5 0 1 1 5 0a2.5 2.5 0 1 1 -5 0zM487.94 394.5a1.56 1.56 0 1 0 3.12 0a1.56 1.56 0 1 0 -3.12 0zM490 346.5a2.5 2.5 0 1 1 5 0a2.5 2.5 0 1 1 -5 0zM490.94 346.5a1.56 1.56 0 1 0 3.12 0a1.56 1.56 0 1 0 -3.12 0zM493 315.5a2.5 2.5 0 1 1 5 0a2.5 2.5 0 1 1 -5 0zM493.94 315.5a1.56 1.56 0 1 0 3.12 0a1.56 1.56 0 1 0 -3.12 0zM496 283.5a2.5 2.5 0 1 1 5 0a2.5 2.5 0 1 1 -5 0zM496.94 283.5a1.56 1.56 0 1 0 3.12 0a1.56 1.56 0 1 0 -3.12 0zM499 315.5a2.5 2.5 0 1 1 5 0a2.5 2.5 0 1 1 -5 0zM499.94 315.5a1.56 1.56 0 1 0 3.12 0a1.56 1.56 0 1 0 -3.12 0zM502 410.5a2.5 2.5 0 1 1 5 0a2.5 2.5 0 1 1 -5 0zM502.94 410.5a1.56 1.56 0 1 0 3.12 0a1.56 1.56 0 1 0 -3.12 0zM505 378.5a2.5 2.5 0 1 1 5 0a2.5 2.5 0 1 1 -5 0zM505.94 378.5a1.56 1.56 0 1 0 3.12 0a1.56 1.56 0 1 0 -3.12 0zM508 425.5a2.5 2.5 0 1 1 5 0a2.5 2.5 0 1 1 -5 0zM508.94 425.5a1.56 1.56 0 1 0 3.12 0a1.56 1.56 0 1 0 -3.12 0zM510 331.5a2.5 2.5 0 1 1 5 0a2.5 2.5 0 1 1 -5 0zM510.94 331.5a1.56 1.56 0 1 0 3.12 0a1.56 1.56 0 1 0 -3.12 0zM513 252.5a2.5 2.5 0 1 1 5 0a2.5 2.5 0 1 1 -5 0zM513.94 252.5a1.56 1.56 0 1 0 3.12 0a1.56 1.56 0 1 0 -3.12 0zM516 252.5a2.5 2.5 0 1 1 5 0a2.5 2.5 0 1 1 -5 0zM516.94 252.5a1.56 1.56 0 1 0 3.12 0a1.56 1.56 0 1 0 -3.12 0zM519 331.5a2.5 2.5 0 1 1 5 0a2.5 2.5 0 1 1 -5 0zM519.94 331.5a1.56 1.56 0 1 0 3.12 0a1.56 1.56 0 1 0 -3.12 0zM522 346.5a2.5 2.5 0 1 1 5 0a2.5 2.5 0 1 1 -5 0zM522.94 346.5a1.56 1.56 0 1 0 3.12 0a1.56 1.56 0 1 0 -3.12 0zM525 425.5a2.5 2.5 0 1 1 5 0a2.5 2.5 0 1 1 -5 0zM525.94 425.5a1.56 1.56 0 1 0 3.12 0a1.56 1.56 0 1 0 -3.12 0zM528 362.5a2.5 2.5 0 1 1 5 0a2.5 2.5 0 1 1 -5 0zM528.94 362.5a1.56 1.56 0 1 0 3.12 0a1.56 1.56 0 1 0 -3.12 0zM531 362.5a2.5 2.5 0 1 1 5 0a2.5 2.5 0 1 1 -5 0zM531.94 362.5a1.56 1.56 0 1 0 3.12 0a1.56 1.56 0 1 0 -3.12 0zM534 362.5a2.5 2.5 0 1 1 5 0a2.5 2.5 0 1 1 -5 0zM534.94 362.5a1.56 1.56 0 1 0 3.12 0a1.56 1.56 0 1 0 -3.12 0zM537 410.5a2.5 2.5 0 1 1 5 0a2.5 2.5 0 1 1 -5 0zM537.94 410.5a1.56 1.56 0 1 0 3.12 0a1.56 1.56 0 1 0 -3.12 0zM540 504.5a2.5 2.5 0 1 1 5 0a2.5 2.5 0 1 1 -5 0zM540.94 504.5a1.56 1.56 0 1 0 3.12 0a1.56 1.56 0 1 0 -3.12 0zM543 410.5a2.5 2.5 0 1 1 5 0a2.5 2.5 0 1 1 -5 0zM543.94 410.5a1.56 1.56 0 1 0 3.12 0a1.56 1.56 0 1 0 -3.12 0zM546 346.5a2.5 2.5 0 1 1 5 0a2.5 2.5 0 1 1 -5 0zM546.94 346.5a1.56 1.56 0 1 0 3.12 0a1.56 1.56 0 1 0 -3.12 0zM548 425.5a2.5 2.5 0 1 1 5 0a2.5 2.5 0 1 1 -5 0zM548.94 425.5a1.56 1.56 0 1 0 3.12 0a1.56 1.56 0 1 0 -3.12 0zM551 346.5a2.5 2.5 0 1 1 5 0a2.5 2.5 0 1 1 -5 0zM551.94 346.5a1.56 1.56 0 1 0 3.12 0a1.56 1.56 0 1 0 -3.12 0zM554 283.5a2.5 2.5 0 1 1 5 0a2.5 2.5 0 1 1 -5 0zM554.94 283.5a1.56 1.56 0 1 0 3.12 0a1.56 1.56 0 1 0 -3.12 0zM557 299.5a2.5 2.5 0 1 1 5 0a2.5 2.5 0 1 1 -5 0zM557.94 299.5a1.56 1.56 0 1 0 3.12 0a1.56 1.56 0 1 0 -3.12 0zM560 346.5a2.5 2.5 0 1 1 5 0a2.5 2.5 0 1 1 -5 0zM560.94 346.5a1.56 1.56 0 1 0 3.12 0a1.56 1.56 0 1 0 -3.12 0zM563 410.5a2.5 2.5 0 1 1 5 0a2.5 2.5 0 1 1 -5 0zM563.94 410.5a1.56 1.56 0 1 0 3.12 0a1.56 1.56 0 1 0 -3.12 0zM566 473.5a2.5 2.5 0 1 1 5 0a2.5 2.5 0 1 1 -5 0zM566.94 473.5a1.56 1.56 0 1 0 3.12 0a1.56 1.56 0 1 0 -3.12 0zM569 504.5a2.5 2.5 0 1 1 5 0a2.5 2.5 0 1 1 -5 0zM569.94 504.5a1.56 1.56 0 1 0 3.12 0a1.56 1.56 0 1 0 -3.12 0zM572 473.5a2.5 2.5 0 1 1 5 0a2.5 2.5 0 1 1 -5 0zM572.94 473.5a1.56 1.56 0 1 0 3.12 0a1.56 1.56 0 1 0 -3.12 0zM575 457.5a2.5 2.5 0 1 1 5 0a2.5 2.5 0 1 1 -5 0zM575.94 457.5a1.56 1.56 0 1 0 3.12 0a1.56 1.56 0 1 0 -3.12 0zM578 473.5a2.5 2.5 0 1 1 5 0a2.5 2.5 0 1 1 -5 0zM578.94 473.5a1.56 1.56 0 1 0 3.12 0a1.56 1.56 0 1 0 -3.12 0zM581 457.5a2.5 2.5 0 1 1 5 0a2.5 2.5 0 1 1 -5 0zM581.94 457.5a1.56 1.56 0 1 0 3.12 0a1.56 1.56 0 1 0 -3.12 0zM584 473.5a2.5 2.5 0 1 1 5 0a2.5 2.5 0 1 1 -5 0zM584.94 473.5a1.56 1.56 0 1 0 3.12 0a1.56 1.56 0 1 0 -3.12 0zM587 457.5a2.5 2.5 0 1 1 5 0a2.5 2.5 0 1 1 -5 0zM587.94 457.5a1.56 1.56 0 1 0 3.12 0a1.56 1.56 0 1 0 -3.12 0zM589 473.5a2.5 2.5 0 1 1 5 0a2.5 2.5 0 1 1 -5 0zM589.94 473.5a1.56 1.56 0 1 0 3.12 0a1.56 1.56 0 1 0 -3.12 0zM592 473.5a2.5 2.5 0 1 1 5 0a2.5 2.5 0 1 1 -5 0zM592.94 473.5a1.56 1.56 0 1 0 3.12 0a1.56 1.56 0 1 0 -3.12 0zM595 489.5a2.5 2.5 0 1 1 5 0a2.5 2.5 0 1 1 -5 0zM595.94 489.5a1.56 1.56 0 1 0 3.12 0a1.56 1.56 0 1 0 -3.12 0zM598 457.5a2.5 2.5 0 1 1 5 0a2.5 2.5 0 1 1 -5 0zM598.94 457.5a1.56 1.56 0 1 0 3.12 0a1.56 1.56 0 1 0 -3.12 0zM601 425.5a2.5 2.5 0 1 1 5 0a2.5 2.5 0 1 1 -5 0zM601.94 425.5a1.56 1.56 0 1 0 3.12 0a1.56 1.56 0 1 0 -3.12 0zM604 425.5a2.5 2.5 0 1 1 5 0a2.5 2.5 0 1 1 -5 0zM604.94 425.5a1.56 1.56 0 1 0 3.12 0a1.56 1.56 0 1 0 -3.12 0zM607 362.5a2.5 2.5 0 1 1 5 0a2.5 2.5 0 1 1 -5 0zM607.94 362.5a1.56 1.56 0 1 0 3.12 0a1.56 1.56 0 1 0 -3.12 0zM610 267.5a2.5 2.5 0 1 1 5 0a2.5 2.5 0 1 1 -5 0zM610.94 267.5a1.56 1.56 0 1 0 3.12 0a1.56 1.56 0 1 0 -3.12 0zM613 252.5a2.5 2.5 0 1 1 5 0a2.5 2.5 0 1 1 -5 0zM613.94 252.5a1.56 1.56 0 1 0 3.12 0a1.56 1.56 0 1 0 -3.12 0zM616 315.5a2.5 2.5 0 1 1 5 0a2.5 2.5 0 1 1 -5 0zM616.94 315.5a1.56 1.56 0 1 0 3.12 0a1.56 1.56 0 1 0 -3.12 0zM619 346.5a2.5 2.5 0 1 1 5 0a2.5 2.5 0 1 1 -5 0zM619.94 346.5a1.56 1.56 0 1 0 3.12 0a1.56 1.56 0 1 0 -3.12 0zM622 378.5a2.5 2.5 0 1 1 5 0a2.5 2.5 0 1 1 -5 0zM622.94 378.5a1.56 1.56 0 1 0 3.12 0a1.56 1.56 0 1 0 -3.12 0zM625 504.5a2.5 2.5 0 1 1 5 0a2.5 2.5 0 1 1 -5 0zM625.94 504.5a1.56 1.56 0 1 0 3.12 0a1.56 1.56 0 1 0 -3.12 0zM627 378.5a2.5 2.5 0 1 1 5 0a2.5 2.5 0 1 1 -5 0zM627.94 378.5a1.56 1.56 0 1 0 3.12 0a1.56 1.56 0 1 0 -3.12 0zM630 299.5a2.5 2.5 0 1 1 5 0a2.5 2.5 0 1 1 -5 0zM630.94 299.5a1.56 1.56 0 1 0 3.12 0a1.56 1.56 0 1 0 -3.12 0zM633 252.5a2.5 2.5 0 1 1 5 0a2.5 2.5 0 1 1 -5 0zM633.94 252.5a1.56 1.56 0 1 0 3.12 0a1.56 1.56 0 1 0 -3.12 0zM636 331.5a2.5 2.5 0 1 1 5 0a2.5 2.5 0 1 1 -5 0zM636.94 331.5a1.56 1.56 0 1 0 3.12 0a1.56 1.56 0 1 0 -3.12 0zM639 441.5a2.5 2.5 0 1 1 5 0a2.5 2.5 0 1 1 -5 0zM639.94 441.5a1.56 1.56 0 1 0 3.12 0a1.56 1.56 0 1 0 -3.12 0zM642 536.5a2.5 2.5 0 1 1 5 0a2.5 2.5 0 1 1 -5 0zM642.94 536.5a1.56 1.56 0 1 0 3.12 0a1.56 1.56 0 1 0 -3.12 0zM645 473.5a2.5 2.5 0 1 1 5 0a2.5 2.5 0 1 1 -5 0zM645.94 473.5a1.56 1.56 0 1 0 3.12 0a1.56 1.56 0 1 0 -3.12 0zM648 457.5a2.5 2.5 0 1 1 5 0a2.5 2.5 0 1 1 -5 0zM648.94 457.5a1.56 1.56 0 1 0 3.12 0a1.56 1.56 0 1 0 -3.12 0zM651 504.5a2.5 2.5 0 1 1 5 0a2.5 2.5 0 1 1 -5 0zM651.94 504.5a1.56 1.56 0 1 0 3.12 0a1.56 1.56 0 1 0 -3.12 0zM654 583.5a2.5 2.5 0 1 1 5 0a2.5 2.5 0 1 1 -5 0zM654.94 583.5a1.56 1.56 0 1 0 3.12 0a1.56 1.56 0 1 0 -3.12 0zM657 489.5a2.5 2.5 0 1 1 5 0a2.5 2.5 0 1 1 -5 0zM657.94 489.5a1.56 1.56 0 1 0 3.12 0a1.56 1.56 0 1 0 -3.12 0zM660 441.5a2.5 2.5 0 1 1 5 0a2.5 2.5 0 1 1 -5 0zM660.94 441.5a1.56 1.56 0 1 0 3.12 0a1.56 1.56 0 1 0 -3.12 0zM663 410.5a2.5 2.5 0 1 1 5 0a2.5 2.5 0 1 1 -5 0zM663.94 410.5a1.56 1.56 0 1 0 3.12 0a1.56 1.56 0 1 0 -3.12 0zM665 441.5a2.5 2.5 0 1 1 5 0a2.5 2.5 0 1 1 -5 0zM665.94 441.5a1.56 1.56 0 1 0 3.12 0a1.56 1.56 0 1 0 -3.12 0zM668 583.5a2.5 2.5 0 1 1 5 0a2.5 2.5 0 1 1 -5 0zM668.94 583.5a1.56 1.56 0 1 0 3.12 0a1.56 1.56 0 1 0 -3.12 0zM671 536.5a2.5 2.5 0 1 1 5 0a2.5 2.5 0 1 1 -5 0zM671.94 536.5a1.56 1.56 0 1 0 3.12 0a1.56 1.56 0 1 0 -3.12 0zM674 599.5a2.5 2.5 0 1 1 5 0a2.5 2.5 0 1 1 -5 0zM674.94 599.5a1.56 1.56 0 1 0 3.12 0a1.56 1.56 0 1 0 -3.12 0zM677 678.5a2.5 2.5 0 1 1 5 0a2.5 2.5 0 1 1 -5 0zM677.94 678.5a1.56 1.56 0 1 0 3.12 0a1.56 1.56 0 1 0 -3.12 0zM680 678.5a2.5 2.5 0 1 1 5 0a2.5 2.5 0 1 1 -5 0zM680.94 678.5a1.56 1.56 0 1 0 3.12 0a1.56 1.56 0 1 0 -3.12 0zM683 662.5a2.5 2.5 0 1 1 5 0a2.5 2.5 0 1 1 -5 0zM683.94 662.5a1.56 1.56 0 1 0 3.12 0a1.56 1.56 0 1 0 -3.12 0zM686 568.5a2.5 2.5 0 1 1 5 0a2.5 2.5 0 1 1 -5 0zM686.94 568.5a1.56 1.56 0 1 0 3.12 0a1.56 1.56 0 1 0 -3.12 0zM689 504.5a2.5 2.5 0 1 1 5 0a2.5 2.5 0 1 1 -5 0zM689.94 504.5a1.56 1.56 0 1 0 3.12 0a1.56 1.56 0 1 0 -3.12 0zM692 536.5a2.5 2.5 0 1 1 5 0a2.5 2.5 0 1 1 -5 0zM692.94 536.5a1.56 1.56 0 1 0 3.12 0a1.56 1.56 0 1 0 -3.12 0zM695 599.5a2.5 2.5 0 1 1 5 0a2.5 2.5 0 1 1 -5 0zM695.94 599.5a1.56 1.56 0 1 0 3.12 0a1.56 1.56 0 1 0 -3.12 0zM698 678.5a2.5 2.5 0 1 1 5 0a2.5 2.5 0 1 1 -5 0zM698.94 678.5a1.56 1.56 0 1 0 3.12 0a1.56 1.56 0 1 0 -3.12 0zM701 662.5a2.5 2.5 0 1 1 5 0a2.5 2.5 0 1 1 -5 0zM701.94 662.5a1.56 1.56 0 1 0 3.12 0a1.56 1.56 0 1 0 -3.12 0zM704 647.5a2.5 2.5 0 1 1 5 0a2.5 2.5 0 1 1 -5 0zM704.94 647.5a1.56 1.56 0 1 0 3.12 0a1.56 1.56 0 1 0 -3.12 0zM706 647.5a2.5 2.5 0 1 1 5 0a2.5 2.5 0 1 1 -5 0zM706.94 647.5a1.56 1.56 0 1 0 3.12 0a1.56 1.56 0 1 0 -3.12 0zM709 631.5a2.5 2.5 0 1 1 5 0a2.5 2.5 0 1 1 -5 0zM709.94 631.5a1.56 1.56 0 1 0 3.12 0a1.56 1.56 0 1 0 -3.12 0zM712 662.5a2.5 2.5 0 1 1 5 0a2.5 2.5 0 1 1 -5 0zM712.94 662.5a1.56 1.56 0 1 0 3.12 0a1.56 1.56 0 1 0 -3.12 0zM715 615.5a2.5 2.5 0 1 1 5 0a2.5 2.5 0 1 1 -5 0zM715.94 615.5a1.56 1.56 0 1 0 3.12 0a1.56 1.56 0 1 0 -3.12 0zM718 647.5a2.5 2.5 0 1 1 5 0a2.5 2.5 0 1 1 -5 0zM718.94 647.5a1.56 1.56 0 1 0 3.12 0a1.56 1.56 0 1 0 -3.12 0zM721 662.5a2.5 2.5 0 1 1 5 0a2.5 2.5 0 1 1 -5 0zM721.94 662.5a1.56 1.56 0 1 0 3.12 0a1.56 1.56 0 1 0 -3.12 0zM724 631.5a2.5 2.5 0 1 1 5 0a2.5 2.5 0 1 1 -5 0zM724.94 631.5a1.56 1.56 0 1 0 3.12 0a1.56 1.56 0 1 0 -3.12 0zM727 615.5a2.5 2.5 0 1 1 5 0a2.5 2.5 0 1 1 -5 0zM727.94 615.5a1.56 1.56 0 1 0 3.12 0a1.56 1.56 0 1 0 -3.12 0zM730 615.5a2.5 2.5 0 1 1 5 0a2.5 2.5 0 1 1 -5 0zM730.94 615.5a1.56 1.56 0 1 0 3.12 0a1.56 1.56 0 1 0 -3.12 0zM733 662.5a2.5 2.5 0 1 1 5 0a2.5 2.5 0 1 1 -5 0zM733.94 662.5a1.56 1.56 0 1 0 3.12 0a1.56 1.56 0 1 0 -3.12 0zM736 678.5a2.5 2.5 0 1 1 5 0a2.5 2.5 0 1 1 -5 0zM736.94 678.5a1.56 1.56 0 1 0 3.12 0a1.56 1.56 0 1 0 -3.12 0zM739 647.5a2.5 2.5 0 1 1 5 0a2.5 2.5 0 1 1 -5 0zM739.94 647.5a1.56 1.56 0 1 0 3.12 0a1.56 1.56 0 1 0 -3.12 0zM742 726.5a2.5 2.5 0 1 1 5 0a2.5 2.5 0 1 1 -5 0zM742.94 726.5a1.56 1.56 0 1 0 3.12 0a1.56 1.56 0 1 0 -3.12 0zM744 694.5a2.5 2.5 0 1 1 5 0a2.5 2.5 0 1 1 -5 0zM744.94 694.5a1.56 1.56 0 1 0 3.12 0a1.56 1.56 0 1 0 -3.12 0zM747 694.5a2.5 2.5 0 1 1 5 0a2.5 2.5 0 1 1 -5 0zM747.94 694.5a1.56 1.56 0 1 0 3.12 0a1.56 1.56 0 1 0 -3.12 0zM750 662.5a2.5 2.5 0 1 1 5 0a2.5 2.5 0 1 1 -5 0zM750.94 662.5a1.56 1.56 0 1 0 3.12 0a1.56 1.56 0 1 0 -3.12 0zM753 599.5a2.5 2.5 0 1 1 5 0a2.5 2.5 0 1 1 -5 0zM753.94 599.5a1.56 1.56 0 1 0 3.12 0a1.56 1.56 0 1 0 -3.12 0zM756 568.5a2.5 2.5 0 1 1 5 0a2.5 2.5 0 1 1 -5 0zM756.94 568.5a1.56 1.56 0 1 0 3.12 0a1.56 1.56 0 1 0 -3.12 0zM759 520.5a2.5 2.5 0 1 1 5 0a2.5 2.5 0 1 1 -5 0zM759.94 520.5a1.56 1.56 0 1 0 3.12 0a1.56 1.56 0 1 0 -3.12 0zM762 536.5a2.5 2.5 0 1 1 5 0a2.5 2.5 0 1 1 -5 0zM762.94 536.5a1.56 1.56 0 1 0 3.12 0a1.56 1.56 0 1 0 -3.12 0zM765 631.5a2.5 2.5 0 1 1 5 0a2.5 2.5 0 1 1 -5 0zM765.94 631.5a1.56 1.56 0 1 0 3.12 0a1.56 1.56 0 1 0 -3.12 0zM768 631.5a2.5 2.5 0 1 1 5 0a2.5 2.5 0 1 1 -5 0zM768.94 631.5a1.56 1.56 0 1 0 3.12 0a1.56 1.56 0 1 0 -3.12 0zM771 694.5a2.5 2.5 0 1 1 5 0a2.5 2.5 0 1 1 -5 0zM771.94 694.5a1.56 1.56 0 1 0 3.12 0a1.56 1.56 0 1 0 -3.12 0zM774 647.5a2.5 2.5 0 1 1 5 0a2.5 2.5 0 1 1 -5 0zM774.94 647.5a1.56 1.56 0 1 0 3.12 0a1.56 1.56 0 1 0 -3.12 0zM777 631.5a2.5 2.5 0 1 1 5 0a2.5 2.5 0 1 1 -5 0zM777.94 631.5a1.56 1.56 0 1 0 3.12 0a1.56 1.56 0 1 0 -3.12 0zM780 583.5a2.5 2.5 0 1 1 5 0a2.5 2.5 0 1 1 -5 0zM780.94 583.5a1.56 1.56 0 1 0 3.12 0a1.56 1.56 0 1 0 -3.12 0zM782 536.5a2.5 2.5 0 1 1 5 0a2.5 2.5 0 1 1 -5 0zM782.94 536.5a1.56 1.56 0 1 0 3.12 0a1.56 1.56 0 1 0 -3.12 0zM785 599.5a2.5 2.5 0 1 1 5 0a2.5 2.5 0 1 1 -5 0zM785.94 599.5a1.56 1.56 0 1 0 3.12 0a1.56 1.56 0 1 0 -3.12 0zM788 662.5a2.5 2.5 0 1 1 5 0a2.5 2.5 0 1 1 -5 0zM788.94 662.5a1.56 1.56 0 1 0 3.12 0a1.56 1.56 0 1 0 -3.12 0zM791 726.5a2.5 2.5 0 1 1 5 0a2.5 2.5 0 1 1 -5 0zM791.94 726.5a1.56 1.56 0 1 0 3.12 0a1.56 1.56 0 1 0 -3.12 0zM794 726.5a2.5 2.5 0 1 1 5 0a2.5 2.5 0 1 1 -5 0zM794.94 726.5a1.56 1.56 0 1 0 3.12 0a1.56 1.56 0 1 0 -3.12 0zM797 741.5a2.5 2.5 0 1 1 5 0a2.5 2.5 0 1 1 -5 0zM797.94 741.5a1.56 1.56 0 1 0 3.12 0a1.56 1.56 0 1 0 -3.12 0zM800 757.5a2.5 2.5 0 1 1 5 0a2.5 2.5 0 1 1 -5 0zM800.94 757.5a1.56 1.56 0 1 0 3.12 0a1.56 1.56 0 1 0 -3.12 0zM803 757.5a2.5 2.5 0 1 1 5 0a2.5 2.5 0 1 1 -5 0zM803.94 757.5a1.56 1.56 0 1 0 3.12 0a1.56 1.56 0 1 0 -3.12 0zM806 773.5a2.5 2.5 0 1 1 5 0a2.5 2.5 0 1 1 -5 0zM806.94 773.5a1.56 1.56 0 1 0 3.12 0a1.56 1.56 0 1 0 -3.12 0zM809 757.5a2.5 2.5 0 1 1 5 0a2.5 2.5 0 1 1 -5 0zM809.94 757.5a1.56 1.56 0 1 0 3.12 0a1.56 1.56 0 1 0 -3.12 0zM812 741.5a2.5 2.5 0 1 1 5 0a2.5 2.5 0 1 1 -5 0zM812.94 741.5a1.56 1.56 0 1 0 3.12 0a1.56 1.56 0 1 0 -3.12 0zM815 773.5a2.5 2.5 0 1 1 5 0a2.5 2.5 0 1 1 -5 0zM815.94 773.5a1.56 1.56 0 1 0 3.12 0a1.56 1.56 0 1 0 -3.12 0zM818 836.5a2.5 2.5 0 1 1 5 0a2.5 2.5 0 1 1 -5 0zM818.94 836.5a1.56 1.56 0 1 0 3.12 0a1.56 1.56 0 1 0 -3.12 0zM820 899.5a2.5 2.5 0 1 1 5 0a2.5 2.5 0 1 1 -5 0zM820.94 899.5a1.56 1.56 0 1 0 3.12 0a1.56 1.56 0 1 0 -3.12 0zM823 884.5a2.5 2.5 0 1 1 5 0a2.5 2.5 0 1 1 -5 0zM823.94 884.5a1.56 1.56 0 1 0 3.12 0a1.56 1.56 0 1 0 -3.12 0zM826 852.5a2.5 2.5 0 1 1 5 0a2.5 2.5 0 1 1 -5 0zM826.94 852.5a1.56 1.56 0 1 0 3.12 0a1.56 1.56 0 1 0 -3.12 0zM829 820.5a2.5 2.5 0 1 1 5 0a2.5 2.5 0 1 1 -5 0zM829.94 820.5a1.56 1.56 0 1 0 3.12 0a1.56 1.56 0 1 0 -3.12 0zM832 852.5a2.5 2.5 0 1 1 5 0a2.5 2.5 0 1 1 -5 0zM832.94 852.5a1.56 1.56 0 1 0 3.12 0a1.56 1.56 0 1 0 -3.12 0zM835 773.5a2.5 2.5 0 1 1 5 0a2.5 2.5 0 1 1 -5 0zM835.94 773.5a1.56 1.56 0 1 0 3.12 0a1.56 1.56 0 1 0 -3.12 0zM838 757.5a2.5 2.5 0 1 1 5 0a2.5 2.5 0 1 1 -5 0zM838.94 757.5a1.56 1.56 0 1 0 3.12 0a1.56 1.56 0 1 0 -3.12 0zM841 757.5a2.5 2.5 0 1 1 5 0a2.5 2.5 0 1 1 -5 0zM841.94 757.5a1.56 1.56 0 1 0 3.12 0a1.56 1.56 0 1 0 -3.12 0zM844 757.5a2.5 2.5 0 1 1 5 0a2.5 2.5 0 1 1 -5 0zM844.94 757.5a1.56 1.56 0 1 0 3.12 0a1.56 1.56 0 1 0 -3.12 0zM847 757.5a2.5 2.5 0 1 1 5 0a2.5 2.5 0 1 1 -5 0zM847.94 757.5a1.56 1.56 0 1 0 3.12 0a1.56 1.56 0 1 0 -3.12 0zM850 757.5a2.5 2.5 0 1 1 5 0a2.5 2.5 0 1 1 -5 0zM850.94 757.5a1.56 1.56 0 1 0 3.12 0a1.56 1.56 0 1 0 -3.12 0zM853 710.5a2.5 2.5 0 1 1 5 0a2.5 2.5 0 1 1 -5 0zM853.94 710.5a1.56 1.56 0 1 0 3.12 0a1.56 1.56 0 1 0 -3.12 0zM856 678.5a2.5 2.5 0 1 1 5 0a2.5 2.5 0 1 1 -5 0zM856.94 678.5a1.56 1.56 0 1 0 3.12 0a1.56 1.56 0 1 0 -3.12 0zM859 662.5a2.5 2.5 0 1 1 5 0a2.5 2.5 0 1 1 -5 0zM859.94 662.5a1.56 1.56 0 1 0 3.12 0a1.56 1.56 0 1 0 -3.12 0zM861 647.5a2.5 2.5 0 1 1 5 0a2.5 2.5 0 1 1 -5 0zM861.94 647.5a1.56 1.56 0 1 0 3.12 0a1.56 1.56 0 1 0 -3.12 0zM864 678.5a2.5 2.5 0 1 1 5 0a2.5 2.5 0 1 1 -5 0zM864.94 678.5a1.56 1.56 0 1 0 3.12 0a1.56 1.56 0 1 0 -3.12 0zM867 710.5a2.5 2.5 0 1 1 5 0a2.5 2.5 0 1 1 -5 0zM867.94 710.5a1.56 1.56 0 1 0 3.12 0a1.56 1.56 0 1 0 -3.12 0zM870 741.5a2.5 2.5 0 1 1 5 0a2.5 2.5 0 1 1 -5 0zM870.94 741.5a1.56 1.56 0 1 0 3.12 0a1.56 1.56 0 1 0 -3.12 0zM873 773.5a2.5 2.5 0 1 1 5 0a2.5 2.5 0 1 1 -5 0zM873.94 773.5a1.56 1.56 0 1 0 3.12 0a1.56 1.56 0 1 0 -3.12 0zM876 789.5a2.5 2.5 0 1 1 5 0a2.5 2.5 0 1 1 -5 0zM876.94 789.5a1.56 1.56 0 1 0 3.12 0a1.56 1.56 0 1 0 -3.12 0zM879 741.5a2.5 2.5 0 1 1 5 0a2.5 2.5 0 1 1 -5 0zM879.94 741.5a1.56 1.56 0 1 0 3.12 0a1.56 1.56 0 1 0 -3.12 0zM882 741.5a2.5 2.5 0 1 1 5 0a2.5 2.5 0 1 1 -5 0zM882.94 741.5a1.56 1.56 0 1 0 3.12 0a1.56 1.56 0 1 0 -3.12 0zM885 836.5a2.5 2.5 0 1 1 5 0a2.5 2.5 0 1 1 -5 0zM885.94 836.5a1.56 1.56 0 1 0 3.12 0a1.56 1.56 0 1 0 -3.12 0zM888 757.5a2.5 2.5 0 1 1 5 0a2.5 2.5 0 1 1 -5 0zM888.94 757.5a1.56 1.56 0 1 0 3.12 0a1.56 1.56 0 1 0 -3.12 0zM891 726.5a2.5 2.5 0 1 1 5 0a2.5 2.5 0 1 1 -5 0zM891.94 726.5a1.56 1.56 0 1 0 3.12 0a1.56 1.56 0 1 0 -3.12 0zM894 741.5a2.5 2.5 0 1 1 5 0a2.5 2.5 0 1 1 -5 0zM894.94 741.5a1.56 1.56 0 1 0 3.12 0a1.56 1.56 0 1 0 -3.12 0zM897 757.5a2.5 2.5 0 1 1 5 0a2.5 2.5 0 1 1 -5 0zM897.94 757.5a1.56 1.56 0 1 0 3.12 0a1.56 1.56 0 1 0 -3.12 0zM899 852.5a2.5 2.5 0 1 1 5 0a2.5 2.5 0 1 1 -5 0zM899.94 852.5a1.56 1.56 0 1 0 3.12 0a1.56 1.56 0 1 0 -3.12 0zM902 805.5a2.5 2.5 0 1 1 5 0a2.5 2.5 0 1 1 -5 0zM902.94 805.5a1.56 1.56 0 1 0 3.12 0a1.56 1.56 0 1 0 -3.12 0zM905 805.5a2.5 2.5 0 1 1 5 0a2.5 2.5 0 1 1 -5 0zM905.94 805.5a1.56 1.56 0 1 0 3.12 0a1.56 1.56 0 1 0 -3.12 0zM908 805.5a2.5 2.5 0 1 1 5 0a2.5 2.5 0 1 1 -5 0zM908.94 805.5a1.56 1.56 0 1 0 3.12 0a1.56 1.56 0 1 0 -3.12 0zM911 789.5a2.5 2.5 0 1 1 5 0a2.5 2.5 0 1 1 -5 0zM911.94 789.5a1.56 1.56 0 1 0 3.12 0a1.56 1.56 0 1 0 -3.12 0zM914 741.5a2.5 2.5 0 1 1 5 0a2.5 2.5 0 1 1 -5 0zM914.94 741.5a1.56 1.56 0 1 0 3.12 0a1.56 1.56 0 1 0 -3.12 0zM917 741.5a2.5 2.5 0 1 1 5 0a2.5 2.5 0 1 1 -5 0zM917.94 741.5a1.56 1.56 0 1 0 3.12 0a1.56 1.56 0 1 0 -3.12 0zM920 710.5a2.5 2.5 0 1 1 5 0a2.5 2.5 0 1 1 -5 0zM920.94 710.5a1.56 1.56 0 1 0 3.12 0a1.56 1.56 0 1 0 -3.12 0zM923 741.5a2.5 2.5 0 1 1 5 0a2.5 2.5 0 1 1 -5 0zM923.94 741.5a1.56 1.56 0 1 0 3.12 0a1.56 1.56 0 1 0 -3.12 0zM926 820.5a2.5 2.5 0 1 1 5 0a2.5 2.5 0 1 1 -5 0zM926.94 820.5a1.56 1.56 0 1 0 3.12 0a1.56 1.56 0 1 0 -3.12 0zM929 820.5a2.5 2.5 0 1 1 5 0a2.5 2.5 0 1 1 -5 0zM929.94 820.5a1.56 1.56 0 1 0 3.12 0a1.56 1.56 0 1 0 -3.12 0zM932 820.5a2.5 2.5 0 1 1 5 0a2.5 2.5 0 1 1 -5 0zM932.94 820.5a1.56 1.56 0 1 0 3.12 0a1.56 1.56 0 1 0 -3.12 0zM935 852.5a2.5 2.5 0 1 1 5 0a2.5 2.5 0 1 1 -5 0zM935.94 852.5a1.56 1.56 0 1 0 3.12 0a1.56 1.56 0 1 0 -3.12 0zM937 820.5a2.5 2.5 0 1 1 5 0a2.5 2.5 0 1 1 -5 0zM937.94 820.5a1.56 1.56 0 1 0 3.12 0a1.56 1.56 0 1 0 -3.12 0zM940 884.5a2.5 2.5 0 1 1 5 0a2.5 2.5 0 1 1 -5 0zM940.94 884.5a1.56 1.56 0 1 0 3.12 0a1.56 1.56 0 1 0 -3.12 0zM943 852.5a2.5 2.5 0 1 1 5 0a2.5 2.5 0 1 1 -5 0zM943.94 852.5a1.56 1.56 0 1 0 3.12 0a1.56 1.56 0 1 0 -3.12 0zM946 836.5a2.5 2.5 0 1 1 5 0a2.5 2.5 0 1 1 -5 0zM946.94 836.5a1.56 1.56 0 1 0 3.12 0a1.56 1.56 0 1 0 -3.12 0zM949 773.5a2.5 2.5 0 1 1 5 0a2.5 2.5 0 1 1 -5 0zM949.94 773.5a1.56 1.56 0 1 0 3.12 0a1.56 1.56 0 1 0 -3.12 0zM952 820.5a2.5 2.5 0 1 1 5 0a2.5 2.5 0 1 1 -5 0zM952.94 820.5a1.56 1.56 0 1 0 3.12 0a1.56 1.56 0 1 0 -3.12 0zM955 963.5a2.5 2.5 0 1 1 5 0a2.5 2.5 0 1 1 -5 0zM955.94 963.5a1.56 1.56 0 1 0 3.12 0a1.56 1.56 0 1 0 -3.12 0zM958 915.5a2.5 2.5 0 1 1 5 0a2.5 2.5 0 1 1 -5 0zM958.94 915.5a1.56 1.56 0 1 0 3.12 0a1.56 1.56 0 1 0 -3.12 0zM961 915.5a2.5 2.5 0 1 1 5 0a2.5 2.5 0 1 1 -5 0zM961.94 915.5a1.56 1.56 0 1 0 3.12 0a1.56 1.56 0 1 0 -3.12 0zM964 963.5a2.5 2.5 0 1 1 5 0a2.5 2.5 0 1 1 -5 0zM964.94 963.5a1.56 1.56 0 1 0 3.12 0a1.56 1.56 0 1 0 -3.12 0zM967 978.5a2.5 2.5 0 1 1 5 0a2.5 2.5 0 1 1 -5 0zM967.94 978.5a1.56 1.56 0 1 0 3.12 0a1.56 1.56 0 1 0 -3.12 0zM970 947.5a2.5 2.5 0 1 1 5 0a2.5 2.5 0 1 1 -5 0zM970.94 947.5a1.56 1.56 0 1 0 3.12 0a1.56 1.56 0 1 0 -3.12 0zM973 899.5a2.5 2.5 0 1 1 5 0a2.5 2.5 0 1 1 -5 0zM973.94 899.5a1.56 1.56 0 1 0 3.12 0a1.56 1.56 0 1 0 -3.12 0zM976 741.5a2.5 2.5 0 1 1 5 0a2.5 2.5 0 1 1 -5 0zM976.94 741.5a1.56 1.56 0 1 0 3.12 0a1.56 1.56 0 1 0 -3.12 0z" fill="#000" fill-rule="nonzero"/>
<polyline points="45.5,327.5 47.5,321.5 50.5,316.5 53.5,312.5 56.5,309.5 59.5,307.5 62.5,306.5 65.5,306.5 68.5,306.5 71.5,308.5 74.5,311.5 77.5,314.5 80.5,318.5 83.5,323.5 85.5,328.5 88.5,334.5 91.5,340.5 94.5,346.5 97.5,352.5 100.5,358.5 103.5,364.5 106.5,370.5 109.5,376.5 112.5,381.5 115.5,385.5 118.5,389.5 121.5,392.5 123.5,395.5 126.5,397.5 129.5,398.5 132.5,398.5 135.5,398.5 138.5,397.5 141.5,396.5 144.5,394.5 147.5,392.5 150.5,389.5 153.5,386.5 156.5,383.5 159.5,380.5 161.5,377.5 164.5,374.5 167.5,372.5 170.5,370.5 173.5,369.5 176.5,368.5 179.5,368.5 182.5,370.5 185.5,372.5 188.5,375.5 191.5,378.5 194.5,383.5 197.5,387.5 200.5,393.5 202.5,398.5 205.5,404.5 208.5,409.5 211.5,414.5 214.5,419.5 217.5,423.5 220.5,426.5 223.5,429.5 226.5,430.5 229.5,431.5 232.5,430.5 235.5,429.5 238.5,426.5 240.5,423.5 243.5,419.5 246.5,414.5 249.5,409.5 252.5,404.5 255.5,398.5 258.5,393.5 261.5,388.5 264.5,383.5 267.5,379.5 270.5,375.5 273.5,371.5 276.5,368.5 278.5,365.5 281.5,363.5 284.5,361.5 287.5,359.5 290.5,357.5 293.5,354.5 296.5,352.5 299.5,349.5 302.5,345.5 305.5,341.5 308.5,336.5 311.5,330.5 314.5,323.5 317.5,315.5 319.5,306.5 322.5,297.5 325.5,288.5 328.5,278.5 331.5,269.5 334.5,260.5 337.5,252.5 340.5,245.5 343.5,239.5 346.5,234.5 349.5,231.5 352.5,230.5 355.5,231.5 357.5,233.5 360.5,237.5 363.5,243.5 366.5,250.5 369.5,258.5 372.5,266.5 375.5,276.5 378.5,285.5 381.5,295.5 384.5,305.5 387.5,314.5 390.5,323.5 393.5,331.5 395.5,339.5 398.5,347.5 401.5,354.5 404.5,361.5 407.5,368.5 410.5,374.5 413.5,379.5 416.5,385.5 419.5,390.5 422.5,395.5 425.5,399.5 428.5,403.5 431.5,406.5 433.5,409.5 436.5,412.5 439.5,415.5 442.5,417.5 445.5,419.5 448.5,420.5 451.5,422.5 454.5,423.5 457.5,423.5 460.5,423.5 463.5,423.5 466.5,422.5 469.5,420.5 472.5,418.5 474.5,415.5 477.5,411.5 480.5,406.5 483.5,402.5 486.5,396.5 489.5,390.5 492.5,385.5 495.5,379.5 498.5,373.5 501.5,368.5 504.5,364.5 507.5,360.5 510.5,356.5 512.5,354.5 515.5,352.5 518.5,352.5 521.5,352.5 524.5,353.5 527.5,356.5 530.5,358.5 533.5,362.5 536.5,366.5 539.5,371.5 542.5,376.5 545.5,382.5 548.5,388.5 550.5,394.5 553.5,400.5 556.5,406.5 559.5,411.5 562.5,417.5 565.5,422.5 568.5,427.5 571.5,430.5 574.5,433.5 577.5,435.5 580.5,435.5 583.5,435.5 586.5,433.5 589.5,430.5 591.5,426.5 594.5,422.5 597.5,416.5 600.5,410.5 603.5,404.5 606.5,399.5 609.5,393.5 612.5,388.5 615.5,385.5 618.5,382.5 621.5,380.5 624.5,380.5 627.5,382.5 629.5,385.5 632.5,390.5 635.5,396.5 638.5,404.5 641.5,412.5 644.5,423.5 647.5,434.5 650.5,445.5 653.5,458.5 656.5,471.5 659.5,484.5 662.5,498.5 665.5,511.5 667.5,524.5 670.5,537.5 673.5,550.5 676.5,562.5 679.5,573.5 682.5,584.5 685.5,594.5 688.5,603.5 691.5,612.5 694.5,619.5 697.5,626.5 700.5,631.5 703.5,636.5 706.5,640.5 708.5,644.5 711.5,646.5 714.5,648.5 717.5,649.5 720.5,649.5 723.5,649.5 726.5,648.5 729.5,646.5 732.5,644.5 735.5,642.5 738.5,639.5 741.5,636.5 744.5,633.5 746.5,630.5 749.5,627.5 752.5,624.5 755.5,622.5 758.5,621.5 761.5,621.5 764.5,622.5 767.5,624.5 770.5,627.5 773.5,631.5 776.5,637.5 779.5,644.5 782.5,653.5 784.5,662.5 787.5,673.5 790.5,684.5 793.5,696.5 796.5,708.5 799.5,720.5 802.5,732.5 805.5,743.5 808.5,754.5 811.5,764.5 814.5,772.5 817.5,779.5 820.5,785.5 822.5,788.5 825.5,791.5 828.5,791.5 831.5,791.5 834.5,788.5 837.5,785.5 840.5,781.5 843.5,776.5 846.5,770.5 849.5,765.5 852.5,759.5 855.5,754.5 858.5,749.5 861.5,745.5 863.5,742.5 866.5,739.5 869.5,738.5 872.5,737.5 875.5,737.5 878.5,738.5 881.5,739.5 884.5,741.5 887.5,744.5 890.5,746.5 893.5,750.5 896.5,753.5 899.5,757.5 901.5,761.5 904.5,765.5 907.5,769.5 910.5,774.5 913.5,779.5 916.5,784.5 919.5,790.5 922.5,795.5 925.5,802.5 928.5,808.5 931.5,815.5 934.5,823.5 937.5,830.5 939.5,838.5 942.5,845.5 945.5,853.5 948.5,860.5 951.5,867.5 954.5,874.5 957.5,880.5 960.5,885.5 963.5,890.5 966.5,893.5 969.5,896.5 972.5,898.5 975.5,899.5 978.5,899.5" stroke="#ff0000" stroke-width="1.0" stroke-linejoin="round" fill="none"/><path d="M43 327.5a2.5 2.5 0 1 1 5 0a2.5 2.5 0 1 1 -5 0zM44.1 327.5a1.4 1.4 0 1 0 2.8 0a1.4 1.4 0 1 0 -2.8 0zM45 321.5a2.5 2.5 0 1 1 5 0a2.5 2.5 0 1 1 -5 0zM46.1 321.5a1.4 1.4 0 1 0 2.8 0a1.4 1.4 0 1 0 -2.8 0zM48 316.5a2.5 2.5 0 1 1 5 0a2.5 2.5 0 1 1 -5 0zM49.1 316.5a1.4 1.4 0 1 0 2.8 0a1.4 1.4 0 1 0 -2.8 0zM51 312.5a2.5 2.5 0 1 1 5 0a2.5 2.5 0 1 1 -5 0zM52.1 312.5a1.4 1.4 0 1 0 2.8 0a1.4 1.4 0 1 0 -2.8 0zM54 309.5a2.5 2.5 0 1 1 5 0a2.5 2.5 0 1 1 -5 0zM55.1 309.5a1.4 1.4 0 1 0 2.8 0a1.4 1.4 0 1 0 -2.8 0zM57 307.5a2.5 2.5 0 1 1 5 0a2.5 2.5 0 1 1 -5 0zM58.1 307.5a1.4 1.4 0 1 0 2.8 0a1.4 1.4 0 1 0 -2.8 0zM60 306.5a2.5 2.5 0 1 1 5 0a2.5 2.5 0 1 1 -5 0zM61.1 306.5a1.4 1.4 0 1 0 2.8 0a1.4 1.4 0 1 0 -2.8 0zM63 306.5a2.5 2.5 0 1 1 5 0a2.5 2.5 0 1 1 -5 0zM64.1 306.5a1.4 1.4 0 1 0 2.8 0a1.4 1.4 0 1 0 -2.8 0zM66 306.5a2.5 2.5 0 1 1 5 0a2.5 2.5 0 1 1 -5 0zM67.1 306.5a1.4 1.4 0 1 0 2.8 0a1.4 1.4 0 1 0 -2.8 0zM69 308.5a2.5 2.5 0 1 1 5 0a2.5 2.5 0 1 1 -5 0zM70.1 308.5a1.4 1.4 0 1 0 2.8 0a1.4 1.4 0 1 0 -2.8 0zM72 311.5a2.5 2.5 0 1 1 5 0a2.5 2.5 0 1 1 -5 0zM73.1 311.5a1.4 1.4 0 1 0 2.8 0a1.4 1.4 0 1 0 -2.8 0zM75 314.5a2.5 2.5 0 1 1 5 0a2.5 2.5 0 1 1 -5 0zM76.1 314.5a1.4 1.4 0 1 0 2.8 0a1.4 1.4 0 1 0 -2.8 0zM78 318.5a2.5 2.5 0 1 1 5 0a2.5 2.5 0 1 1 -5 0zM79.1 318.5a1.4 1.4 0 1 0 2.8 0a1.4 1.4 0 1 0 -2.8 0zM81 323.5a2.5 2.5 0 1 1 5 0a2.5 2.5 0 1 1 -5 0zM82.1 323.5a1.4 1.4 0 1 0 2.8 0a1.4 1.4 0 1 0 -2.8 0zM83 328.5a2.5 2.5 0 1 1 5 0a2.5 2.5 0 1 1 -5 0zM84.1 328.5a1.4 1.4 0 1 0 2.8 0a1.4 1.4 0 1 0 -2.8 0zM86 334.5a2.5 2.5 0 1 1 5 0a2.5 2.5 0 1 1 -5 0zM87.1 334.5a1.4 1.4 0 1 0 2.8 0a1.4 1.4 0 1 0 -2.8 0zM89 340.5a2.5 2.5 0 1 1 5 0a2.5 2.5 0 1 1 -5 0zM90.1 340.5a1.4 1.4 0 1 0 2.8 0a1.4 1.4 0 1 0 -2.8 0zM92 346.5a2.5 2.5 0 1 1 5 0a2.5 2.5 0 1 1 -5 0zM93.1 346.5a1.4 1.4 0 1 0 2.8 0a1.4 1.4 0 1 0 -2.8 0zM95 352.5a2.5 2.5 0 1 1 5 0a2.5 2.5 0 1 1 -5 0zM96.1 352.5a1.4 1.4 0 1 0 2.8 0a1.4 1.4 0 1 0 -2.8 0zM98 358.5a2.5 2.5 0 1 1 5 0a2.5 2.5 0 1 1 -5 0zM99.1 358.5a1.4 1.4 0 1 0 2.8 0a1.4 1.4 0 1 0 -2.8 0zM101 364.5a2.5 2.5 0 1 1 5 0a2.5 2.5 0 1 1 -5 0zM102.1 364.5a1.4 1.4 0 1 0 2.8 0a1.4 1.4 0 1 0 -2.8 0zM104 370.5a2.5 2.5 0 1 1 5 0a2.5 2.5 0 1 1 -5 0zM105.1 370.5a1.4 1.4 0 1 0 2.8 0a1.4 1.4 0 1 0 -2.8 0zM107 376.5a2.5 2.5 0 1 1 5 0a2.5 2.5 0 1 1 -5 0zM108.1 376.5a1.4 1.4 0 1 0 2.8 0a1.4 1.4 0 1 0 -2.8 0zM110 381.5a2.5 2.5 0 1 1 5 0a2.5 2.5 0 1 1 -5 0zM111.1 381.5a1.4 1.4 0 1 0 2.8 0a1.4 1.4 0 1 0 -2.8 0zM113 385.5a2.5 2.5 0 1 1 5 0a2.5 2.5 0 1 1 -5 0zM114.1 385.5a1.4 1.4 0 1 0 2.8 0a1.4 1.4 0 1 0 -2.8 0zM116 389.5a2.5 2.5 0 1 1 5 0a2.5 2.5 0 1 1 -5 0zM117.1 389.5a1.4 1.4 0 1 0 2.8 0a1.4 1.4 0 1 0 -2.8 0zM119 392.5a2.5 2.5 0 1 1 5 0a2.5 2.5 0 1 1 -5 0zM120.1 392.5a1.4 1.4 0 1 0 2.8 0a1.4 1.4 0 1 0 -2.8 0zM121 395.5a2.5 2.5 0 1 1 5 0a2.5 2.5 0 1 1 -5 0zM122.1 395.5a1.4 1.4 0 1 0 2.8 0a1.4 1.4 0 1 0 -2.8 0zM124 397.5a2.5 2.5 0 1 1 5 0a2.5 2.5 0 1 1 -5 0zM125.1 397.5a1.4 1.4 0 1 0 2.8 0a1.4 1.4 0 1 0 -2.8 0zM127 398.5a2.5 2.5 0 1 1 5 0a2.5 2.5 0 1 1 -5 0zM128.1 398.5a1.4 1.4 0 1 0 2.8 0a1.4 1.4 0 1 0 -2.8 0zM130 398.5a2.5 2.5 0 1 1 5 0a2.5 2.5 0 1 1 -5 0zM131.1 398.5a1.4 1.4 0 1 0 2.8 0a1.4 1.4 0 1 0 -2.8 0zM133 398.5a2.5 2.5 0 1 1 5 0a2.5 2.5 0 1 1 -5 0zM134.1 398.5a1.4 1.4 0 1 0 2.8 0a1.4 1.4 0 1 0 -2.8 0zM136 397.5a2.5 2.5 0 1 1 5 0a2.5 2.5 0 1 1 -5 0zM137.1 397.5a1.4 1.4 0 1 0 2.8 0a1.4 1.4 0 1 0 -2.8 0zM139 396.5a2.5 2.5 0 1 1 5 0a2.5 2.5 0 1 1 -5 0zM140.1 396.5a1.4 1.4 0 1 0 2.8 0a1.4 1.4 0 1 0 -2.8 0zM142 394.5a2.5 2.5 0 1 1 5 0a2.5 2.5 0 1 1 -5 0zM143.1 394.5a1.4 1.4 0 1 0 2.8 0a1.4 1.4 0 1 0 -2.8 0zM145 392.5a2.5 2.5 0 1 1 5 0a2.5 2.5 0 1 1 -5 0zM146.1 392.5a1.4 1.4 0 1 0 2.8 0a1.4 1.4 0 1 0 -2.8 0zM148 389.5a2.5 2.5 0 1 1 5 0a2.5 2.5 0 1 1 -5 0zM149.1 389.5a1.4 1.4 0 1 0 2.8 0a1.4 1.4 0 1 0 -2.8 0zM151 386.5a2.5 2.5 0 1 1 5 0a2.5 2.5 0 1 1 -5 0zM152.1 386.5a1.4 1.4 0 1 0 2.8 0a1.4 1.4 0 1 0 -2.8 0zM154 383.5a2.5 2.5 0 1 1 5 0a2.5 2.5 0 1 1 -5 0zM155.1 383.5a1.4 1.4 0 1 0 2.8 0a1.4 1.4 0 1 0 -2.8 0zM157 380.5a2.5 2.5 0 1 1 5 0a2.5 2.5 0 1 1 -5 0zM158.1 380.5a1.4 1.4 0 1 0 2.8 0a1.4 1.4 0 1 0 -2.8 0zM159 377.5a2.5 2.5 0 1 1 5 0a2.5 2.5 0 1 1 -5 0zM160.1 377.5a1.4 1.4 0 1 0 2.8 0a1.4 1.4 0 1 0 -2.8 0zM162 374.5a2.5 2.5 0 1 1 5 0a2.5 2.5 0 1 1 -5 0zM163.1 374.5a1.4 1.4 0 1 0 2.8 0a1.4 1.4 0 1 0 -2.8 0zM165 372.5a2.5 2.5 0 1 1 5 0a2.5 2.5 0 1 1 -5 0zM166.1 372.5a1.4 1.4 0 1 0 2.8 0a1.4 1.4 0 1 0 -2.8 0zM168 370.5a2.5 2.5 0 1 1 5 0a2.5 2.5 0 1 1 -5 0zM169.1 370.5a1.4 1.4 0 1 0 2.8 0a1.4 1.4 0 1 0 -2.8 0zM171 369.5a2.5 2.5 0 1 1 5 0a2.5 2.5 0 1 1 -5 0zM172.1 369.5a1.4 1.4 0 1 0 2.8 0a1.4 1.4 0 1 0 -2.8 0zM174 368.5a2.5 2.5 0 1 1 5 0a2.5 2.5 0 1 1 -5 0zM175.1 368.5a1.4 1.4 0 1 0 2.8 0a1.4 1.4 0 1 0 -2.8 0zM177 368.5a2.5 2.5 0 1 1 5 0a2.5 2.5 0 1 1 -5 0zM178.1 368.5a1.4 1.4 0 1 0 2.8 0a1.4 1.4 0 1 0 -2.8 0zM180 370.5a2.5 2.5 0 1 1 5 0a2.5 2.5 0 1 1 -5 0zM181.1 370.5a1.4 1.4 0 1 0 2.8 0a1.4 1.4 0 1 0 -2.8 0zM183 372.5a2.5 2.5 0 1 1 5 0a2.5 2.5 0 1 1 -5 0zM184.1 372.5a1.4 1.4 0 1 0 2.8 0a1.4 1.4 0 1 0 -2.8 0zM186 375.5a2.5 2.5 0 1 1 5 0a2.5 2.5 0 1 1 -5 0zM187.1 375.5a1.4 1.4 0 1 0 2.8 0a1.4 1.4 0 1 0 -2.8 0zM189 378.5a2.5 2.5 0 1 1 5 0a2.5 2.5 0 1 1 -5 0zM190.1 378.5a1.4 1.4 0 1 0 2.8 0a1.4 1.4 0 1 0 -2.8 0zM192 383.5a2.5 2.5 0 1 1 5 0a2.5 2.5 0 1 1 -5 0zM193.1 383.5a1.4 1.4 0 1 0 2.8 0a1.4 1.4 0 1 0 -2.8 0zM195 387.5a2.5 2.5 0 1 1 5 0a2.5 2.5 0 1 1 -5 0zM196.1 387.5a1.4 1.4 0 1 0 2.8 0a1.4 1.4 0 1 0 -2.8 0zM198 393.5a2.5 2.5 0 1 1 5 0a2.5 2.5 0 1 1 -5 0zM199.1 393.5a1.4 1.4 0 1 0 2.8 0a1.4 1.4 0 1 0 -2.8 0zM200 398.5a2.5 2.5 0 1 1 5 0a2.5 2.5 0 1 1 -5 0zM201.1 398.5a1.4 1.4 0 1 0 2.8 0a1.4 1.4 0 1 0 -2.8 0zM203 404.5a2.5 2.5 0 1 1 5 0a2.5 2.5 0 1 1 -5 0zM204.1 404.5a1.4 1.4 0 1 0 2.8 0a1.4 1.4 0 1 0 -2.8 0zM206 409.5a2.5 2.5 0 1 1 5 0a2.5 2.5 0 1 1 -5 0zM207.1 409.5a1.4 1.4 0 1 0 2.8 0a1.4 1.4 0 1 0 -2.8 0zM209 414.5a2.5 2.5 0 1 1 5 0a2.5 2.5 0 1 1 -5 0zM210.1 414.5a1.4 1.4 0 1 0 2.8 0a1.4 1.4 0 1 0 -2.8 0zM212 419.5a2.5 2.5 0 1 1 5 0a2.5 2.5 0 1 1 -5 0zM213.1 419.5a1.4 1.4 0 1 0 2.8 0a1.4 1.4 0 1 0 -2.8 0zM215 423.5a2.5 2.5 0 1 1 5 0a2.5 2.5 0 1 1 -5 0zM216.1 423.5a1.4 1.4 0 1 0 2.8 0a1.4 1.4 0 1 0 -2.8 0zM218 426.5a2.5 2.5 0 1 1 5 0a2.5 2.5 0 1 1 -5 0zM219.1 426.5a1.4 1.4 0 1 0 2.8 0a1.4 1.4 0 1 0 -2.8 0zM221 429.5a2.5 2.5 0 1 1 5 0a2.5 2.5 0 1 1 -5 0zM222.1 429.5a1.4 1.4 0 1 0 2.8 0a1.4 1.4 0 1 0 -2.8 0zM224 430.5a2.5 2.5 0 1 1 5 0a2.5 2.5 0 1 1 -5 0zM225.1 430.5a1.4 1.4 0 1 0 2.8 0a1.4 1.4 0 1 0 -2.8 0zM227 431.5a2.5 2.5 0 1 1 5 0a2.5 2.5 0 1 1 -5 0zM228.1 431.5a1.4 1.4 0 1 0 2.8 0a1.4 1.4 0 1 0 -2.8 0zM230 430.5a2.5 2.5 0 1 1 5 0a2.5 2.5 0 1 1 -5 0zM231.1 430.5a1.4 1.4 0 1 0 2.8 0a1.4 1.4 0 1 0 -2.8 0zM233 429.5a2.5 2.5 0 1 1 5 0a2.5 2.5 0 1 1 -5 0zM234.1 429.5a1.4 1.4 0 1 0 2.8 0a1.4 1.4 0 1 0 -2.8 0zM236 426.5a2.5 2.5 0 1 1 5 0a2.5 2.5 0 1 1 -5 0zM237.1 426.5a1.4 1.4 0 1 0 2.8 0a1.4 1.4 0 1 0 -2.8 0zM238 423.5a2.5 2.5 0 1 1 5 0a2.5 2.5 0 1 1 -5 0zM239.1 423.5a1.4 1.4 0 1 0 2.8 0a1.4 1.4 0 1 0 -2.8 0zM241 419.5a2.5 2.5 0 1 1 5 0a2.5 2.5 0 1 1 -5 0zM242.1 419.5a1.4 1.4 0 1 0 2.8 0a1.4 1.4 0 1 0 -2.8 0zM244 414.5a2.5 2.5 0 1 1 5 0a2.5 2.5 0 1 1 -5 0zM245.1 414.5a1.4 1.4 0 1 0 2.8 0a1.4 1.4 0 1 0 -2.8 0zM247 409.5a2.5 2.5 0 1 1 5 0a2.5 2.5 0 1 1 -5 0zM248.1 409.5a1.4 1.4 0 1 0 2.8 0a1.4 1.4 0 1 0 -2.8 0zM250 404.5a2.5 2.5 0 1 1 5 0a2.5 2.5 0 1 1 -5 0zM251.1 404.5a1.4 1.4 0 1 0 2.8 0a1.4 1.4 0 1 0 -2.8 0zM253 398.5a2.5 2.5 0 1 1 5 0a2.5 2.5 0 1 1 -5 0zM254.1 398.5a1.4 1.4 0 1 0 2.8 0a1.4 1.4 0 1 0 -2.8 0zM256 393.5a2.5 2.5 0 1 1 5 0a2.5 2.5 0 1 1 -5 0zM257.1 393.5a1.4 1.4 0 1 0 2.8 0a1.4 1.4 0 1 0 -2.8 0zM259 388.5a2.5 2.5 0 1 1 5 0a2.5 2.5 0 1 1 -5 0zM260.1 388.5a1.4 1.4 0 1 0 2.8 0a1.4 1.4 0 1 0 -2.8 0zM262 383.5a2.5 2.5 0 1 1 5 0a2.5 2.5 0 1 1 -5 0zM263.1 383.5a1.4 1.4 0 1 0 2.8 0a1.4 1.4 0 1 0 -2.8 0zM265 379.5a2.5 2.5 0 1 1 5 0a2.5 2.5 0 1 1 -5 0zM266.1 379.5a1.4 1.4 0 1 0 2.8 0a1.4 1.4 0 1 0 -2.8 0zM268 375.5a2.5 2.5 0 1 1 5 0a2.5 2.5 0 1 1 -5 0zM269.1 375.5a1.4 1.4 0 1 0 2.8 0a1.4 1.4 0 1 0 -2.8 0zM271 371.5a2.5 2.5 0 1 1 5 0a2.5 2.5 0 1 1 -5 0zM272.1 371.5a1.4 1.4 0 1 0 2.8 0a1.4 1.4 0 1 0 -2.8 0zM274 368.5a2.5 2.5 0 1 1 5 0a2.5 2.5 0 1 1 -5 0zM275.1 368.5a1.4 1.4 0 1 0 2.8 0a1.4 1.4 0 1 0 -2.8 0zM276 365.5a2.5 2.5 0 1 1 5 0a2.5 2.5 0 1 1 -5 0zM277.1 365.5a1.4 1.4 0 1 0 2.8 0a1.4 1.4 0 1 0 -2.8 0zM279 363.5a2.5 2.5 0 1 1 5 0a2.5 2.5 0 1 1 -5 0zM280.1 363.5a1.4 1.4 0 1 0 2.8 0a1.4 1.4 0 1 0 -2.8 0zM282 361.5a2.5 2.5 0 1 1 5 0a2.5 2.5 0 1 1 -5 0zM283.1 361.5a1.4 1.4 0 1 0 2.8 0a1.4 1.4 0 1 0 -2.8 0zM285 359.5a2.5 2.5 0 1 1 5 0a2.5 2.5 0 1 1 -5 0zM286.1 359.5a1.4 1.4 0 1 0 2.8 0a1.4 1.4 0 1 0 -2.8 0zM288 357.5a2.5 2.5 0 1 1 5 0a2.5 2.5 0 1 1 -5 0zM289.1 357.5a1.4 1.4 0 1 0 2.8 0a1.4 1.4 0 1 0 -2.8 0zM291 354.5a2.5 2.5 0 1 1 5 0a2.5 2.5 0 1 1 -5 0zM292.1 354.5a1.4 1.4 0 1 0 2.8 0a1.4 1.4 0 1 0 -2.8 0zM294 352.5a2.5 2.5 0 1 1 5 0a2.5 2.5 0 1 1 -5 0zM295.1 352.5a1.4 1.4 0 1 0 2.8 0a1.4 1.4 0 1 0 -2.8 0zM297 349.5a2.5 2.5 0 1 1 5 0a2.5 2.5 0 1 1 -5 0zM298.1 349.5a1.4 1.4 0 1 0 2.8 0a1.4 1.4 0 1 0 -2.8 0zM300 345.5a2.5 2.5 0 1 1 5 0a2.5 2.5 0 1 1 -5 0zM301.1 345.5a1.4 1.4 0 1 0 2.8 0a1.4 1.4 0 1 0 -2.8 0zM303 341.5a2.5 2.5 0 1 1 5 0a2.5 2.5 0 1 1 -5 0zM304.1 341.5a1.4 1.4 0 1 0 2.8 0a1.4 1.4 0 1 0 -2.8 0zM306 336.5a2.5 2.5 0 1 1 5 0a2.5 2.5 0 1 1 -5 0zM307.1 336.5a1.4 1.4 0 1 0 2.8 0a1.4 1.4 0 1 0 -2.8 0zM309 330.5a2.5 2.5 0 1 1 5 0a2.5 2.5 0 1 1 -5 0zM310.1 330.5a1.4 1.4 0 1 0 2.8 0a1.4 1.4 0 1 0 -2.8 0zM312 323.5a2.5 2.5 0 1 1 5 0a2.5 2.5 0 1 1 -5 0zM313.1 323.5a1.4 1.4 0 1 0 2.8 0a1.4 1.4 0 1 0 -2.8 0zM315 315.5a2.5 2.5 0 1 1 5 0a2.5 2.5 0 1 1 -5 0zM316.1 315.5a1.4 1.4 0 1 0 2.8 0a1.4 1.4 0 1 0 -2.8 0zM317 306.5a2.5 2.5 0 1 1 5 0a2.5 2.5 0 1 1 -5 0zM318.1 306.5a1.4 1.4 0 1 0 2.8 0a1.4 1.4 0 1 0 -2.8 0zM320 297.5a2.5 2.5 0 1 1 5 0a2.5 2.5 0 1 1 -5 0zM321.1 297.5a1.4 1.4 0 1 0 2.8 0a1.4 1.4 0 1 0 -2.8 0zM323 288.5a2.5 2.5 0 1 1 5 0a2.5 2.5 0 1 1 -5 0zM324.1 288.5a1.4 1.4 0 1 0 2.8 0a1.4 1.4 0 1 0 -2.8 0zM326 278.5a2.5 2.5 0 1 1 5 0a2.5 2.5 0 1 1 -5 0zM327.1 278.5a1.4 1.4 0 1 0 2.8 0a1.4 1.4 0 1 0 -2.8 0zM329 269.5a2.5 2.5 0 1 1 5 0a2.5 2.5 0 1 1 -5 0zM330.1 269.5a1.4 1.4 0 1 0 2.8 0a1.4 1.4 0 1 0 -2.8 0zM332 260.5a2.5 2.5 0 1 1 5 0a2.5 2.5 0 1 1 -5 0zM333.1 260.5a1.4 1.4 0 1 0 2.8 0a1.4 1.4 0 1 0 -2.8 0zM335 252.5a2.5 2.5 0 1 1 5 0a2.5 2.5 0 1 1 -5 0zM336.1 252.5a1.4 1.4 0 1 0 2.8 0a1.4 1.4 0 1 0 -2.8 0zM338 245.5a2.5 2.5 0 1 1 5 0a2.5 2.5 0 1 1 -5 0zM339.1 245.5a1.4 1.4 0 1 0 2.8 0a1.4 1.4 0 1 0 -2.8 0zM341 239.5a2.5 2.5 0 1 1 5 0a2.5 2.5 0 1 1 -5 0zM342.1 239.5a1.4 1.4 0 1 0 2.8 0a1.4 1.4 0 1 0 -2.8 0zM344 234.5a2.5 2.5 0 1 1 5 0a2.5 2.5 0 1 1 -5 0zM345.1 234.5a1.4 1.4 0 1 0 2.8 0a1.4 1.4 0 1 0 -2.8 0zM347 231.5a2.5 2.5 0 1 1 5 0a2.5 2.5 0 1 1 -5 0zM348.1 231.5a1.4 1.4 0 1 0 2.8 0a1.4 1.4 0 1 0 -2.8 0zM350 230.5a2.5 2.5 0 1 1 5 0a2.5 2.5 0 1 1 -5 0zM351.1 230.5a1.4 1.4 0 1 0 2.8 0a1.4 1.4 0 1 0 -2.8 0zM353 231.5a2.5 2.5 0 1 1 5 0a2.5 2.5 0 1 1 -5 0zM354.1 231.5a1.4 1.4 0 1 0 2.8 0a1.4 1.4 0 1 0 -2.8 0zM355 233.5a2.5 2.5 0 1 1 5 0a2.5 2.5 0 1 1 -5 0zM356.1 233.5a1.4 1.4 0 1 0 2.8 0a1.4 1.4 0 1 0 -2.8 0zM358 237.5a2.5 2.5 0 1 1 5 0a2.5 2.5 0 1 1 -5 0zM359.1 237.5a1.4 1.4 0 1 0 2.8 0a1.4 1.4 0 1 0 -2.8 0zM361 243.5a2.5 2.5 0 1 1 5 0a2.5 2.5 0 1 1 -5 0zM362.1 243.5a1.4 1.4 0 1 0 2.8 0a1.4 1.4 0 1 0 -2.8 0zM364 250.5a2.5 2.5 0 1 1 5 0a2.5 2.5 0 1 1 -5 0zM365.1 250.5a1.4 1.4 0 1 0 2.8 0a1.4 1.4 0 1 0 -2.8 0zM367 258.5a2.5 2.5 0 1 1 5 0a2.5 2.5 0 1 1 -5 0zM368.1 258.5a1.4 1.4 0 1 0 2.8 0a1.4 1.4 0 1 0 -2.8 0zM370 266.5a2.5 2.5 0 1 1 5 0a2.5 2.5 0 1 1 -5 0zM371.1 266.5a1.4 1.4 0 1 0 2.8 0a1.4 1.4 0 1 0 -2.8 0zM373 276.5a2.5 2.5 0 1 1 5 0a2.5 2.5 0 1 1 -5 0zM374.1 276.5a1.4 1.4 0 1 0 2.8 0a1.4 1.4 0 1 0 -2.8 0zM376 285.5a2.5 2.5 0 1 1 5 0a2.5 2.5 0 1 1 -5 0zM377.1 285.5a1.4 1.4 0 1 0 2.8 0a1.4 1.4 0 1 0 -2.8 0zM379 295.5a2.5 2.5 0 1 1 5 0a2.5 2.5 0 1 1 -5 0zM380.1 295.5a1.4 1.4 0 1 0 2.8 0a1.4 1.4 0 1 0 -2.8 0zM382 305.5a2.5 2.5 0 1 1 5 0a2.5 2.5 0 1 1 -5 0zM383.1 305.5a1.4 1.4 0 1 0 2.8 0a1.4 1.4 0 1 0 -2.8 0zM385 314.5a2.5 2.5 0 1 1 5 0a2.5 2.5 0 1 1 -5 0zM386.1 314.5a1.4 1.4 0 1 0 2.8 0a1.4 1.4 0 1 0 -2.8 0zM388 323.5a2.5 2.5 0 1 1 5 0a2.5 2.5 0 1 1 -5 0zM389.1 323.5a1.4 1.4 0 1 0 2.8 0a1.4 1.4 0 1 0 -2.8 0zM391 331.5a2.5 2.5 0 1 1 5 0a2.5 2.5 0 1 1 -5 0zM392.1 331.5a1.4 1.4 0 1 0 2.8 0a1.4 1.4 0 1 0 -2.8 0zM393 339.5a2.5 2.5 0 1 1 5 0a2.5 2.5 0 1 1 -5 0zM394.1 339.5a1.4 1.4 0 1 0 2.8 0a1.4 1.4 0 1 0 -2.8 0zM396 347.5a2.5 2.5 0 1 1 5 0a2.5 2.5 0 1 1 -5 0zM397.1 347.5a1.4 1.4 0 1 0 2.8 0a1.4 1.4 0 1 0 -2.8 0zM399 354.5a2.5 2.5 0 1 1 5 0a2.5 2.5 0 1 1 -5 0zM400.1 354.5a1.4 1.4 0 1 0 2.8 0a1.4 1.4 0 1 0 -2.8 0zM402 361.5a2.5 2.5 0 1 1 5 0a2.5 2.5 0 1 1 -5 0zM403.1 361.5a1.4 1.4 0 1 0 2.8 0a1.4 1.4 0 1 0 -2.8 0zM405 368.5a2.5 2.5 0 1 1 5 0a2.5 2.5 0 1 1 -5 0zM406.1 368.5a1.4 1.4 0 1 0 2.8 0a1.4 1.4 0 1 0 -2.8 0zM408 374.5a2.5 2.5 0 1 1 5 0a2.5 2.5 0 1 1 -5 0zM409.1 374.5a1.4 1.4 0 1 0 2.8 0a1.4 1.4 0 1 0 -2.8 0zM411 379.5a2.5 2.5 0 1 1 5 0a2.5 2.5 0 1 1 -5 0zM412.1 379.5a1.4 1.4 0 1 0 2.8 0a1.4 1.4 0 1 0 -2.8 0zM414 385.5a2.5 2.5 0 1 1 5 0a2.5 2.5 0 1 1 -5 0zM415.1 385.5a1.4 1.4 0 1 0 2.8 0a1.4 1.4 0 1 0 -2.8 0zM417 390.5a2.5 2.5 0 1 1 5 0a2.5 2.5 0 1 1 -5 0zM418.1 390.5a1.4 1.4 0 1 0 2.8 0a1.4 1.4 0 1 0 -2.8 0zM420 395.5a2.5 2.5 0 1 1 5 0a2.5 2.5 0 1 1 -5 0zM421.1 395.5a1.4 1.4 0 1 0 2.8 0a1.4 1.4 0 1 0 -2.8 0zM423 399.5a2.5 2.5 0 1 1 5 0a2.5 2.5 0 1 1 -5 0zM424.1 399.5a1.4 1.4 0 1 0 2.8 0a1.4 1.4 0 1 0 -2.8 0zM426 403.5a2.5 2.5 0 1 1 5 0a2.5 2.5 0 1 1 -5 0zM427.1 403.5a1.4 1.4 0 1 0 2.8 0a1.4 1.4 0 1 0 -2.8 0zM429 406.5a2.5 2.5 0 1 1 5 0a2.5 2.5 0 1 1 -5 0zM430.1 406.5a1.4 1.4 0 1 0 2.8 0a1.4 1.4 0 1 0 -2.8 0zM431 409.5a2.5 2.5 0 1 1 5 0a2.5 2.5 0 1 1 -5 0zM432.1 409.5a1.4 1.4 0 1 0 2.8 0a1.4 1.4 0 1 0 -2.8 0zM434 412.5a2.5 2.5 0 1 1 5 0a2.5 2.5 0 1 1 -5 0zM435.1 412.5a1.4 1.4 0 1 0 2.8 0a1.4 1.4 0 1 0 -2.8 0zM437 415.5a2.5 2.5 0 1 1 5 0a2.5 2.5 0 1 1 -5 0zM438.1 415.5a1.4 1.4 0 1 0 2.8 0a1.4 1.4 0 1 0 -2.8 0zM440 417.5a2.5 2.5 0 1 1 5 0a2.5 2.5 0 1 1 -5 0zM441.1 417.5a1.4 1.4 0 1 0 2.8 0a1.4 1.4 0 1 0 -2.8 0zM443 419.5a2.5 2.5 0 1 1 5 0a2.5 2.5 0 1 1 -5 0zM444.1 419.5a1.4 1.4 0 1 0 2.8 0a1.4 1.4 0 1 0 -2.8 0zM446 420.5a2.5 2.5 0 1 1 5 0a2.5 2.5 0 1 1 -5 0zM447.1 420.5a1.4 1.4 0 1 0 2.8 0a1.4 1.4 0 1 0 -2.8 0zM449 422.5a2.5 2.5 0 1 1 5 0a2.5 2.5 0 1 1 -5 0zM450.1 422.5a1.4 1.4 0 1 0 2.8 0a1.4 1.4 0 1 0 -2.8 0zM452 423.5a2.5 2.5 0 1 1 5 0a2.5 2.5 0 1 1 -5 0zM453.1 423.5a1.4 1.4 0 1 0 2.8 0a1.4 1.4 0 1 0 -2.8 0zM455 423.5a2.5 2.5 0 1 1 5 0a2.5 2.5 0 1 1 -5 0zM456.1 423.5a1.4 1.4 0 1 0 2.8 0a1.4 1.4 0 1 0 -2.8 0zM458 423.5a2.5 2.5 0 1 1 5 0a2.5 2.5 0 1 1 -5 0zM459.1 423.5a1.4 1.4 0 1 0 2.8 0a1.4 1.4 0 1 0 -2.8 0zM461 423.5a2.5 2.5 0 1 1 5 0a2.5 2.5 0 1 1 -5 0zM462.1 423.5a1.4 1.4 0 1 0 2.8 0a1.4 1.4 0 1 0 -2.8 0zM464 422.5a2.5 2.5 0 1 1 5 0a2.5 2.5 0 1 1 -5 0zM465.1 422.5a1.4 1.4 0 1 0 2.8 0a1.4 1.4 0 1 0 -2.8 0zM467 420.5a2.5 2.5 0 1 1 5 0a2.5 2.5 0 1 1 -5 0zM468.1 420.5a1.4 1.4 0 1 0 2.8 0a1.4 1.4 0 1 0 -2.8 0zM470 418.5a2.5 2.5 0 1 1 5 0a2.5 2.5 0 1 1 -5 0zM471.1 418.5a1.4 1.4 0 1 0 2.8 0a1.4 1.4 0 1 0 -2.8 0zM472 415.5a2.5 2.5 0 1 1 5 0a2.5 2.5 0 1 1 -5 0zM473.1 415.5a1.4 1.4 0 1 0 2.8 0a1.4 1.4 0 1 0 -2.8 0zM475 411.5a2.5 2.5 0 1 1 5 0a2.5 2.5 0 1 1 -5 0zM476.1 411.5a1.4 1.4 0 1 0 2.8 0a1.4 1.4 0 1 0 -2.8 0zM478 406.5a2.5 2.5 0 1 1 5 0a2.5 2.5 0 1 1 -5 0zM479.1 406.5a1.4 1.4 0 1 0 2.8 0a1.4 1.4 0 1 0 -2.8 0zM481 402.5a2.5 2.5 0 1 1 5 0a2.5 2.5 0 1 1 -5 0zM482.1 402.5a1.4 1.4 0 1 0 2.8 0a1.4 1.4 0 1 0 -2.8 0zM484 396.5a2.5 2.5 0 1 1 5 0a2.5 2.5 0 1 1 -5 0zM485.1 396.5a1.4 1.4 0 1 0 2.8 0a1.4 1.4 0 1 0 -2.8 0zM487 390.5a2.5 2.5 0 1 1 5 0a2.5 2.5 0 1 1 -5 0zM488.1 390.5a1.4 1.4 0 1 0 2.8 0a1.4 1.4 0 1 0 -2.8 0zM490 385.5a2.5 2.5 0 1 1 5 0a2.5 2.5 0 1 1 -5 0zM491.1 385.5a1.4 1.4 0 1 0 2.8 0a1.4 1.4 0 1 0 -2.8 0zM493 379.5a2.5 2.5 0 1 1 5 0a2.5 2.5 0 1 1 -5 0zM494.1 379.5a1.4 1.4 0 1 0 2.8 0a1.4 1.4 0 1 0 -2.8 0zM496 373.5a2.5 2.5 0 1 1 5 0a2.5 2.5 0 1 1 -5 0zM497.1 373.5a1.4 1.4 0 1 0 2.8 0a1.4 1.4 0 1 0 -2.8 0zM499 368.5a2.5 2.5 0 1 1 5 0a2.5 2.5 0 1 1 -5 0zM500.1 368.5a1.4 1.4 0 1 0 2.8 0a1.4 1.4 0 1 0 -2.8 0zM502 364.5a2.5 2.5 0 1 1 5 0a2.5 2.5 0 1 1 -5 0zM503.1 364.5a1.4 1.4 0 1 0 2.8 0a1.4 1.4 0 1 0 -2.8 0zM505 360.5a2.5 2.5 0 1 1 5 0a2.5 2.5 0 1 1 -5 0zM506.1 360.5a1.4 1.4 0 1 0 2.8 0a1.4 1.4 0 1 0 -2.8 0zM508 356.5a2.5 2.5 0 1 1 5 0a2.5 2.5 0 1 1 -5 0zM509.1 356.5a1.4 1.4 0 1 0 2.8 0a1.4 1.4 0 1 0 -2.8 0zM510 354.5a2.5 2.5 0 1 1 5 0a2.5 2.5 0 1 1 -5 0zM511.1 354.5a1.4 1.4 0 1 0 2.8 0a1.4 1.4 0 1 0 -2.8 0zM513 352.5a2.5 2.5 0 1 1 5 0a2.5 2.5 0 1 1 -5 0zM514.1 352.5a1.4 1.4 0 1 0 2.8 0a1.4 1.4 0 1 0 -2.8 0zM516 352.5a2.5 2.5 0 1 1 5 0a2.5 2.5 0 1 1 -5 0zM517.1 352.5a1.4 1.4 0 1 0 2.8 0a1.4 1.4 0 1 0 -2.8 0zM519 352.5a2.5 2.5 0 1 1 5 0a2.5 2.5 0 1 1 -5 0zM520.1 352.5a1.4 1.4 0 1 0 2.8 0a1.4 1.4 0 1 0 -2.8 0zM522 353.5a2.5 2.5 0 1 1 5 0a2.5 2.5 0 1 1 -5 0zM523.1 353.5a1.4 1.4 0 1 0 2.8 0a1.4 1.4 0 1 0 -2.8 0zM525 356.5a2.5 2.5 0 1 1 5 0a2.5 2.5 0 1 1 -5 0zM526.1 356.5a1.4 1.4 0 1 0 2.8 0a1.4 1.4 0 1 0 -2.8 0zM528 358.5a2.5 2.5 0 1 1 5 0a2.5 2.5 0 1 1 -5 0zM529.1 358.5a1.4 1.4 0 1 0 2.8 0a1.4 1.4 0 1 0 -2.8 0zM531 362.5a2.5 2.5 0 1 1 5 0a2.5 2.5 0 1 1 -5 0zM532.1 362.5a1.4 1.4 0 1 0 2.8 0a1.4 1.4 0 1 0 -2.8 0zM534 366.5a2.5 2.5 0 1 1 5 0a2.5 2.5 0 1 1 -5 0zM535.1 366.5a1.4 1.4 0 1 0 2.8 0a1.4 1.4 0 1 0 -2.8 0zM537 371.5a2.5 2.5 0 1 1 5 0a2.5 2.5 0 1 1 -5 0zM538.1 371.5a1.4 1.4 0 1 0 2.8 0a1.4 1.4 0 1 0 -2.8 0zM540 376.5a2.5 2.5 0 1 1 5 0a2.5 2.5 0 1 1 -5 0zM541.1 376.5a1.4 1.4 0 1 0 2.8 0a1.4 1.4 0 1 0 -2.8 0zM543 382.5a2.5 2.5 0 1 1 5 0a2.5 2.5 0 1 1 -5 0zM544.1 382.5a1.4 1.4 0 1 0 2.8 0a1.4 1.4 0 1 0 -2.8 0zM546 388.5a2.5 2.5 0 1 1 5 0a2.5 2.5 0 1 1 -5 0zM547.1 388.5a1.4 1.4 0 1 0 2.8 0a1.4 1.4 0 1 0 -2.8 0zM548 394.5a2.5 2.5 0 1 1 5 0a2.5 2.5 0 1 1 -5 0zM549.1 394.5a1.4 1.4 0 1 0 2.8 0a1.4 1.4 0 1 0 -2.8 0zM551 400.5a2.5 2.5 0 1 1 5 0a2.5 2.5 0 1 1 -5 0zM552.1 400.5a1.4 1.4 0 1 0 2.8 0a1.4 1.4 0 1 0 -2.8 0zM554 406.5a2.5 2.5 0 1 1 5 0a2.5 2.5 0 1 1 -5 0zM555.1 406.5a1.4 1.4 0 1 0 2.8 0a1.4 1.4 0 1 0 -2.8 0zM557 411.5a2.5 2.5 0 1 1 5 0a2.5 2.5 0 1 1 -5 0zM558.1 411.5a1.4 1.4 0 1 0 2.8 0a1.4 1.4 0 1 0 -2.8 0zM560 417.5a2.5 2.5 0 1 1 5 0a2.5 2.5 0 1 1 -5 0zM561.1 417.5a1.4 1.4 0 1 0 2.8 0a1.4 1.4 0 1 0 -2.8 0zM563 422.5a2.5 2.5 0 1 1 5 0a2.5 2.5 0 1 1 -5 0zM564.1 422.5a1.4 1.4 0 1 0 2.8 0a1.4 1.4 0 1 0 -2.8 0zM566 427.5a2.5 2.5 0 1 1 5 0a2.5 2.5 0 1 1 -5 0zM567.1 427.5a1.4 1.4 0 1 0 2.8 0a1.4 1.4 0 1 0 -2.8 0zM569 430.5a2.5 2.5 0 1 1 5 0a2.5 2.5 0 1 1 -5 0zM570.1 430.5a1.4 1.4 0 1 0 2.8 0a1.4 1.4 0 1 0 -2.8 0zM572 433.5a2.5 2.5 0 1 1 5 0a2.5 2.5 0 1 1 -5 0zM573.1 433.5a1.4 1.4 0 1 0 2.8 0a1.4 1.4 0 1 0 -2.8 0zM575 435.5a2.5 2.5 0 1 1 5 0a2.5 2.5 0 1 1 -5 0zM576.1 435.5a1.4 1.4 0 1 0 2.8 0a1.4 1.4 0 1 0 -2.8 0zM578 435.5a2.5 2.5 0 1 1 5 0a2.5 2.5 0 1 1 -5 0zM579.1 435.5a1.4 1.4 0 1 0 2.8 0a1.4 1.4 0 1 0 -2.8 0zM581 435.5a2.5 2.5 0 1 1 5 0a2.5 2.5 0 1 1 -5 0zM582.1 435.5a1.4 1.4 0 1 0 2.8 0a1.4 1.4 0 1 0 -2.8 0zM584 433.5a2.5 2.5 0 1 1 5 0a2.5 2.5 0 1 1 -5 0zM585.1 433.5a1.4 1.4 0 1 0 2.8 0a1.4 1.4 0 1 0 -2.8 0zM587 430.5a2.5 2.5 0 1 1 5 0a2.5 2.5 0 1 1 -5 0zM588.1 430.5a1.4 1.4 0 1 0 2.8 0a1.4 1.4 0 1 0 -2.8 0zM589 426.5a2.5 2.5 0 1 1 5 0a2.5 2.5 0 1 1 -5 0zM590.1 426.5a1.4 1.4 0 1 0 2.8 0a1.4 1.4 0 1 0 -2.8 0zM592 422.5a2.5 2.5 0 1 1 5 0a2.5 2.5 0 1 1 -5 0zM593.1 422.5a1.4 1.4 0 1 0 2.8 0a1.4 1.4 0 1 0 -2.8 0zM595 416.5a2.5 2.5 0 1 1 5 0a2.5 2.5 0 1 1 -5 0zM596.1 416.5a1.4 1.4 0 1 0 2.8 0a1.4 1.4 0 1 0 -2.8 0zM598 410.5a2.5 2.5 0 1 1 5 0a2.5 2.5 0 1 1 -5 0zM599.1 410.5a1.4 1.4 0 1 0 2.8 0a1.4 1.4 0 1 0 -2.8 0zM601 404.5a2.5 2.5 0 1 1 5 0a2.5 2.5 0 1 1 -5 0zM602.1 404.5a1.4 1.4 0 1 0 2.8 0a1.4 1.4 0 1 0 -2.8 0zM604 399.5a2.5 2.5 0 1 1 5 0a2.5 2.5 0 1 1 -5 0zM605.1 399.5a1.4 1.4 0 1 0 2.8 0a1.4 1.4 0 1 0 -2.8 0zM607 393.5a2.5 2.5 0 1 1 5 0a2.5 2.5 0 1 1 -5 0zM608.1 393.5a1.4 1.4 0 1 0 2.8 0a1.4 1.4 0 1 0 -2.8 0zM610 388.5a2.5 2.5 0 1 1 5 0a2.5 2.5 0 1 1 -5 0zM611.1 388.5a1.4 1.4 0 1 0 2.8 0a1.4 1.4 0 1 0 -2.8 0zM613 385.5a2.5 2.5 0 1 1 5 0a2.5 2.5 0 1 1 -5 0zM614.1 385.5a1.4 1.4 0 1 0 2.8 0a1.4 1.4 0 1 0 -2.8 0zM616 382.5a2.5 2.5 0 1 1 5 0a2.5 2.5 0 1 1 -5 0zM617.1 382.5a1.4 1.4 0 1 0 2.8 0a1.4 1.4 0 1 0 -2.8 0zM619 380.5a2.5 2.5 0 1 1 5 0a2.5 2.5 0 1 1 -5 0zM620.1 380.5a1.4 1.4 0 1 0 2.8 0a1.4 1.4 0 1 0 -2.8 0zM622 380.5a2.5 2.5 0 1 1 5 0a2.5 2.5 0 1 1 -5 0zM623.1 380.5a1.4 1.4 0 1 0 2.8 0a1.4 1.4 0 1 0 -2.8 0zM625 382.5a2.5 2.5 0 1 1 5 0a2.5 2.5 0 1 1 -5 0zM626.1 382.5a1.4 1.4 0 1 0 2.8 0a1.4 1.4 0 1 0 -2.8 0zM627 385.5a2.5 2.5 0 1 1 5 0a2.5 2.5 0 1 1 -5 0zM628.1 385.5a1.4 1.4 0 1 0 2.8 0a1.4 1.4 0 1 0 -2.8 0zM630 390.5a2.5 2.5 0 1 1 5 0a2.5 2.5 0 1 1 -5 0zM631.1 390.5a1.4 1.4 0 1 0 2.8 0a1.4 1.4 0 1 0 -2.8 0zM633 396.5a2.5 2.5 0 1 1 5 0a2.5 2.5 0 1 1 -5 0zM634.1 396.5a1.4 1.4 0 1 0 2.8 0a1.4 1.4 0 1 0 -2.8 0zM636 404.5a2.5 2.5 0 1 1 5 0a2.5 2.5 0 1 1 -5 0zM637.1 404.5a1.4 1.4 0 1 0 2.8 0a1.4 1.4 0 1 0 -2.8 0zM639 412.5a2.5 2.5 0 1 1 5 0a2.5 2.5 0 1 1 -5 0zM640.1 412.5a1.4 1.4 0 1 0 2.8 0a1.4 1.4 0 1 0 -2.8 0zM642 423.5a2.5 2.5 0 1 1 5 0a2.5 2.5 0 1 1 -5 0zM643.1 423.5a1.4 1.4 0 1 0 2.8 0a1.4 1.4 0 1 0 -2.8 0zM645 434.5a2.5 2.5 0 1 1 5 0a2.5 2.5 0 1 1 -5 0zM646.1 434.5a1.4 1.4 0 1 0 2.8 0a1.4 1.4 0 1 0 -2.8 0zM648 445.5a2.5 2.5 0 1 1 5 0a2.5 2.5 0 1 1 -5 0zM649.1 445.5a1.4 1.4 0 1 0 2.8 0a1.4 1.4 0 1 0 -2.8 0zM651 458.5a2.5 2.5 0 1 1 5 0a2.5 2.5 0 1 1 -5 0zM652.1 458.5a1.4 1.4 0 1 0 2.8 0a1.4 1.4 0 1 0 -2.8 0zM654 471.5a2.5 2.5 0 1 1 5 0a2.5 2.5 0 1 1 -5 0zM655.1 471.5a1.4 1.4 0 1 0 2.8 0a1.4 1.4 0 1 0 -2.8 0zM657 484.5a2.5 2.5 0 1 1 5 0a2.5 2.5 0 1 1 -5 0zM658.1 484.5a1.4 1.4 0 1 0 2.8 0a1.4 1.4 0 1 0 -2.8 0zM660 498.5a2.5 2.5 0 1 1 5 0a2.5 2.5 0 1 1 -5 0zM661.1 498.5a1.4 1.4 0 1 0 2.8 0a1.4 1.4 0 1 0 -2.8 0zM663 511.5a2.5 2.5 0 1 1 5 0a2.5 2.5 0 1 1 -5 0zM664.1 511.5a1.4 1.4 0 1 0 2.8 0a1.4 1.4 0 1 0 -2.8 0zM665 524.5a2.5 2.5 0 1 1 5 0a2.5 2.5 0 1 1 -5 0zM666.1 524.5a1.4 1.4 0 1 0 2.8 0a1.4 1.4 0 1 0 -2.8 0zM668 537.5a2.5 2.5 0 1 1 5 0a2.5 2.5 0 1 1 -5 0zM669.1 537.5a1.4 1.4 0 1 0 2.8 0a1.4 1.4 0 1 0 -2.8 0zM671 550.5a2.5 2.5 0 1 1 5 0a2.5 2.5 0 1 1 -5 0zM672.1 550.5a1.4 1.4 0 1 0 2.8 0a1.4 1.4 0 1 0 -2.8 0zM674 562.5a2.5 2.5 0 1 1 5 0a2.5 2.5 0 1 1 -5 0zM675.1 562.5a1.4 1.4 0 1 0 2.8 0a1.4 1.4 0 1 0 -2.8 0zM677 573.5a2.5 2.5 0 1 1 5 0a2.5 2.5 0 1 1 -5 0zM678.1 573.5a1.4 1.4 0 1 0 2.8 0a1.4 1.4 0 1 0 -2.8 0zM680 584.5a2.5 2.5 0 1 1 5 0a2.5 2.5 0 1 1 -5 0zM681.1 584.5a1.4 1.4 0 1 0 2.8 0a1.4 1.4 0 1 0 -2.8 0zM683 594.5a2.5 2.5 0 1 1 5 0a2.5 2.5 0 1 1 -5 0zM684.1 594.5a1.4 1.4 0 1 0 2.8 0a1.4 1.4 0 1 0 -2.8 0zM686 603.5a2.5 2.5 0 1 1 5 0a2.5 2.5 0 1 1 -5 0zM687.1 603.5a1.4 1.4 0 1 0 2.8 0a1.4 1.4 0 1 0 -2.8 0zM689 612.5a2.5 2.5 0 1 1 5 0a2.5 2.5 0 1 1 -5 0zM690.1 612.5a1.4 1.4 0 1 0 2.8 0a1.4 1.4 0 1 0 -2.8 0zM692 619.5a2.5 2.5 0 1 1 5 0a2.5 2.5 0 1 1 -5 0zM693.1 619.5a1.4 1.4 0 1 0 2.8 0a1.4 1.4 0 1 0 -2.8 0zM695 626.5a2.5 2.5 0 1 1 5 0a2.5 2.5 0 1 1 -5 0zM696.1 626.5a1.4 1.4 0 1 0 2.8 0a1.4 1.4 0 1 0 -2.8 0zM698 631.5a2.5 2.5 0 1 1 5 0a2.5 2.5 0 1 1 -5 0zM699.1 631.5a1.4 1.4 0 1 0 2.8 0a1.4 1.4 0 1 0 -2.8 0zM701 636.5a2.5 2.5 0 1 1 5 0a2.5 2.5 0 1 1 -5 0zM702.1 636.5a1.4 1.4 0 1 0 2.8 0a1.4 1.4 0 1 0 -2.8 0zM704 640.5a2.5 2.5 0 1 1 5 0a2.5 2.5 0 1 1 -5 0zM705.1 640.5a1.4 1.4 0 1 0 2.8 0a1.4 1.4 0 1 0 -2.8 0zM706 644.5a2.5 2.5 0 1 1 5 0a2.5 2.5 0 1 1 -5 0zM707.1 644.5a1.4 1.4 0 1 0 2.8 0a1.4 1.4 0 1 0 -2.8 0zM709 646.5a2.5 2.5 0 1 1 5 0a2.5 2.5 0 1 1 -5 0zM710.1 646.5a1.4 1.4 0 1 0 2.8 0a1.4 1.4 0 1 0 -2.8 0zM712 648.5a2.5 2.5 0 1 1 5 0a2.5 2.5 0 1 1 -5 0zM713.1 648.5a1.4 1.4 0 1 0 2.8 0a1.4 1.4 0 1 0 -2.8 0zM715 649.5a2.5 2.5 0 1 1 5 0a2.5 2.5 0 1 1 -5 0zM716.1 649.5a1.4 1.4 0 1 0 2.8 0a1.4 1.4 0 1 0 -2.8 0zM718 649.5a2.5 2.5 0 1 1 5 0a2.5 2.5 0 1 1 -5 0zM719.1 649.5a1.4 1.4 0 1 0 2.8 0a1.4 1.4 0 1 0 -2.8 0zM721 649.5a2.5 2.5 0 1 1 5 0a2.5 2.5 0 1 1 -5 0zM722.1 649.5a1.4 1.4 0 1 0 2.8 0a1.4 1.4 0 1 0 -2.8 0zM724 648.5a2.5 2.5 0 1 1 5 0a2.5 2.5 0 1 1 -5 0zM725.1 648.5a1.4 1.4 0 1 0 2.8 0a1.4 1.4 0 1 0 -2.8 0zM727 646.5a2.5 2.5 0 1 1 5 0a2.5 2.5 0 1 1 -5 0zM728.1 646.5a1.4 1.4 0 1 0 2.8 0a1.4 1.4 0 1 0 -2.8 0zM730 644.5a2.5 2.5 0 1 1 5 0a2.5 2.5 0 1 1 -5 0zM731.1 644.5a1.4 1.4 0 1 0 2.8 0a1.4 1.4 0 1 0 -2.8 0zM733 642.5a2.5 2.5 0 1 1 5 0a2.5 2.5 0 1 1 -5 0zM734.1 642.5a1.4 1.4 0 1 0 2.8 0a1.4 1.4 0 1 0 -2.8 0zM736 639.5a2.5 2.5 0 1 1 5 0a2.5 2.5 0 1 1 -5 0zM737.1 639.5a1.4 1.4 0 1 0 2.8 0a1.4 1.4 0 1 0 -2.8 0zM739 636.5a2.5 2.5 0 1 1 5 0a2.5 2.5 0 1 1 -5 0zM740.1 636.5a1.4 1.4 0 1 0 2.8 0a1.4 1.4 0 1 0 -2.8 0zM742 633.5a2.5 2.5 0 1 1 5 0a2.5 2.5 0 1 1 -5 0zM743.1 633.5a1.4 1.4 0 1 0 2.8 0a1.4 1.4 0 1 0 -2.8 0zM744 630.5a2.5 2.5 0 1 1 5 0a2.5 2.5 0 1 1 -5 0zM745.1 630.5a1.4 1.4 0 1 0 2.8 0a1.4 1.4 0 1 0 -2.8 0zM747 627.5a2.5 2.5 0 1 1 5 0a2.5 2.5 0 1 1 -5 0zM748.1 627.5a1.4 1.4 0 1 0 2.8 0a1.4 1.4 0 1 0 -2.8 0zM750 624.5a2.5 2.5 0 1 1 5 0a2.5 2.5 0 1 1 -5 0zM751.1 624.5a1.4 1.4 0 1 0 2.8 0a1.4 1.4 0 1 0 -2.8 0zM753 622.5a2.5 2.5 0 1 1 5 0a2.5 2.5 0 1 1 -5 0zM754.1 622.5a1.4 1.4 0 1 0 2.8 0a1.4 1.4 0 1 0 -2.8 0zM756 621.5a2.5 2.5 0 1 1 5 0a2.5 2.5 0 1 1 -5 0zM757.1 621.5a1.4 1.4 0 1 0 2.8 0a1.4 1.4 0 1 0 -2.8 0zM759 621.5a2.5 2.5 0 1 1 5 0a2.5 2.5 0 1 1 -5 0zM760.1 621.5a1.4 1.4 0 1 0 2.8 0a1.4 1.4 0 1 0 -2.8 0zM762 622.5a2.5 2.5 0 1 1 5 0a2.5 2.5 0 1 1 -5 0zM763.1 622.5a1.4 1.4 0 1 0 2.8 0a1.4 1.4 0 1 0 -2.8 0zM765 624.5a2.5 2.5 0 1 1 5 0a2.5 2.5 0 1 1 -5 0zM766.1 624.5a1.4 1.4 0 1 0 2.8 0a1.4 1.4 0 1 0 -2.8 0zM768 627.5a2.5 2.5 0 1 1 5 0a2.5 2.5 0 1 1 -5 0zM769.1 627.5a1.4 1.4 0 1 0 2.8 0a1.4 1.4 0 1 0 -2.8 0zM771 631.5a2.5 2.5 0 1 1 5 0a2.5 2.5 0 1 1 -5 0zM772.1 631.5a1.4 1.4 0 1 0 2.8 0a1.4 1.4 0 1 0 -2.8 0zM774 637.5a2.5 2.5 0 1 1 5 0a2.5 2.5 0 1 1 -5 0zM775.1 637.5a1.4 1.4 0 1 0 2.8 0a1.4 1.4 0 1 0 -2.8 0zM777 644.5a2.5 2.5 0 1 1 5 0a2.5 2.5 0 1 1 -5 0zM778.1 644.5a1.4 1.4 0 1 0 2.8 0a1.4 1.4 0 1 0 -2.8 0zM780 653.5a2.5 2.5 0 1 1 5 0a2.5 2.5 0 1 1 -5 0zM781.1 653.5a1.4 1.4 0 1 0 2.8 0a1.4 1.4 0 1 0 -2.8 0zM782 662.5a2.5 2.5 0 1 1 5 0a2.5 2.5 0 1 1 -5 0zM783.1 662.5a1.4 1.4 0 1 0 2.8 0a1.4 1.4 0 1 0 -2.8 0zM785 673.5a2.5 2.5 0 1 1 5 0a2.5 2.5 0 1 1 -5 0zM786.1 673.5a1.4 1.4 0 1 0 2.8 0a1.4 1.4 0 1 0 -2.8 0zM788 684.5a2.5 2.5 0 1 1 5 0a2.5 2.5 0 1 1 -5 0zM789.1 684.5a1.4 1.4 0 1 0 2.8 0a1.4 1.4 0 1 0 -2.8 0zM791 696.5a2.5 2.5 0 1 1 5 0a2.5 2.5 0 1 1 -5 0zM792.1 696.5a1.4 1.4 0 1 0 2.8 0a1.4 1.4 0 1 0 -2.8 0zM794 708.5a2.5 2.5 0 1 1 5 0a2.5 2.5 0 1 1 -5 0zM795.1 708.5a1.4 1.4 0 1 0 2.8 0a1.4 1.4 0 1 0 -2.8 0zM797 720.5a2.5 2.5 0 1 1 5 0a2.5 2.5 0 1 1 -5 0zM798.1 720.5a1.4 1.4 0 1 0 2.8 0a1.4 1.4 0 1 0 -2.8 0zM800 732.5a2.5 2.5 0 1 1 5 0a2.5 2.5 0 1 1 -5 0zM801.1 732.5a1.4 1.4 0 1 0 2.8 0a1.4 1.4 0 1 0 -2.8 0zM803 743.5a2.5 2.5 0 1 1 5 0a2.5 2.5 0 1 1 -5 0zM804.1 743.5a1.4 1.4 0 1 0 2.8 0a1.4 1.4 0 1 0 -2.8 0zM806 754.5a2.5 2.5 0 1 1 5 0a2.5 2.5 0 1 1 -5 0zM807.1 754.5a1.4 1.4 0 1 0 2.8 0a1.4 1.4 0 1 0 -2.8 0zM809 764.5a2.5 2.5 0 1 1 5 0a2.5 2.5 0 1 1 -5 0zM810.1 764.5a1.4 1.4 0 1 0 2.8 0a1.4 1.4 0 1 0 -2.8 0zM812 772.5a2.5 2.5 0 1 1 5 0a2.5 2.5 0 1 1 -5 0zM813.1 772.5a1.4 1.4 0 1 0 2.8 0a1.4 1.4 0 1 0 -2.8 0zM815 779.5a2.5 2.5 0 1 1 5 0a2.5 2.5 0 1 1 -5 0zM816.1 779.5a1.4 1.4 0 1 0 2.8 0a1.4 1.4 0 1 0 -2.8 0zM818 785.5a2.5 2.5 0 1 1 5 0a2.5 2.5 0 1 1 -5 0zM819.1 785.5a1.4 1.4 0 1 0 2.8 0a1.4 1.4 0 1 0 -2.8 0zM820 788.5a2.5 2.5 0 1 1 5 0a2.5 2.5 0 1 1 -5 0zM821.1 788.5a1.4 1.4 0 1 0 2.8 0a1.4 1.4 0 1 0 -2.8 0zM823 791.5a2.5 2.5 0 1 1 5 0a2.5 2.5 0 1 1 -5 0zM824.1 791.5a1.4 1.4 0 1 0 2.8 0a1.4 1.4 0 1 0 -2.8 0zM826 791.5a2.5 2.5 0 1 1 5 0a2.5 2.5 0 1 1 -5 0zM827.1 791.5a1.4 1.4 0 1 0 2.8 0a1.4 1.4 0 1 0 -2.8 0zM829 791.5a2.5 2.5 0 1 1 5 0a2.5 2.5 0 1 1 -5 0zM830.1 791.5a1.4 1.4 0 1 0 2.8 0a1.4 1.4 0 1 0 -2.8 0zM832 788.5a2.5 2.5 0 1 1 5 0a2.5 2.5 0 1 1 -5 0zM833.1 788.5a1.4 1.4 0 1 0 2.8 0a1.4 1.4 0 1 0 -2.8 0zM835 785.5a2.5 2.5 0 1 1 5 0a2.5 2.5 0 1 1 -5 0zM836.1 785.5a1.4 1.4 0 1 0 2.8 0a1.4 1.4 0 1 0 -2.8 0zM838 781.5a2.5 2.5 0 1 1 5 0a2.5 2.5 0 1 1 -5 0zM839.1 781.5a1.4 1.4 0 1 0 2.8 0a1.4 1.4 0 1 0 -2.8 0zM841 776.5a2.5 2.5 0 1 1 5 0a2.5 2.5 0 1 1 -5 0zM842.1 776.5a1.4 1.4 0 1 0 2.8 0a1.4 1.4 0 1 0 -2.8 0zM844 770.5a2.5 2.5 0 1 1 5 0a2.5 2.5 0 1 1 -5 0zM845.1 770.5a1.4 1.4 0 1 0 2.8 0a1.4 1.4 0 1 0 -2.8 0zM847 765.5a2.5 2.5 0 1 1 5 0a2.5 2.5 0 1 1 -5 0zM848.1 765.5a1.4 1.4 0 1 0 2.8 0a1.4 1.4 0 1 0 -2.8 0zM850 759.5a2.5 2.5 0 1 1 5 0a2.5 2.5 0 1 1 -5 0zM851.1 759.5a1.4 1.4 0 1 0 2.8 0a1.4 1.4 0 1 0 -2.8 0zM853 754.5a2.5 2.5 0 1 1 5 0a2.5 2.5 0 1 1 -5 0zM854.1 754.5a1.4 1.4 0 1 0 2.8 0a1.4 1.4 0 1 0 -2.8 0zM856 749.5a2.5 2.5 0 1 1 5 0a2.5 2.5 0 1 1 -5 0zM857.1 749.5a1.4 1.4 0 1 0 2.8 0a1.4 1.4 0 1 0 -2.8 0zM859 745.5a2.5 2.5 0 1 1 5 0a2.5 2.5 0 1 1 -5 0zM860.1 745.5a1.4 1.4 0 1 0 2.8 0a1.4 1.4 0 1 0 -2.8 0zM861 742.5a2.5 2.5 0 1 1 5 0a2.5 2.5 0 1 1 -5 0zM862.1 742.5a1.4 1.4 0 1 0 2.8 0a1.4 1.4 0 1 0 -2.8 0zM864 739.5a2.5 2.5 0 1 1 5 0a2.5 2.5 0 1 1 -5 0zM865.1 739.5a1.4 1.4 0 1 0 2.8 0a1.4 1.4 0 1 0 -2.8 0zM867 738.5a2.5 2.5 0 1 1 5 0a2.5 2.5 0 1 1 -5 0zM868.1 738.5a1.4 1.4 0 1 0 2.8 0a1.4 1.4 0 1 0 -2.8 0zM870 737.5a2.5 2.5 0 1 1 5 0a2.5 2.5 0 1 1 -5 0zM871.1 737.5a1.4 1.4 0 1 0 2.8 0a1.4 1.4 0 1 0 -2.8 0zM873 737.5a2.5 2.5 0 1 1 5 0a2.5 2.5 0 1 1 -5 0zM874.1 737.5a1.4 1.4 0 1 0 2.8 0a1.4 1.4 0 1 0 -2.8 0zM876 738.5a2.5 2.5 0 1 1 5 0a2.5 2.5 0 1 1 -5 0zM877.1 738.5a1.4 1.4 0 1 0 2.8 0a1.4 1.4 0 1 0 -2.8 0zM879 739.5a2.5 2.5 0 1 1 5 0a2.5 2.5 0 1 1 -5 0zM880.1 739.5a1.4 1.4 0 1 0 2.8 0a1.4 1.4 0 1 0 -2.8 0zM882 741.5a2.5 2.5 0 1 1 5 0a2.5 2.5 0 1 1 -5 0zM883.1 741.5a1.4 1.4 0 1 0 2.8 0a1.4 1.4 0 1 0 -2.8 0zM885 744.5a2.5 2.5 0 1 1 5 0a2.5 2.5 0 1 1 -5 0zM886.1 744.5a1.4 1.4 0 1 0 2.8 0a1.4 1.4 0 1 0 -2.8 0zM888 746.5a2.5 2.5 0 1 1 5 0a2.5 2.5 0 1 1 -5 0zM889.1 746.5a1.4 1.4 0 1 0 2.8 0a1.4 1.4 0 1 0 -2.8 0zM891 750.5a2.5 2.5 0 1 1 5 0a2.5 2.5 0 1 1 -5 0zM892.1 750.5a1.4 1.4 0 1 0 2.8 0a1.4 1.4 0 1 0 -2.8 0zM894 753.5a2.5 2.5 0 1 1 5 0a2.5 2.5 0 1 1 -5 0zM895.1 753.5a1.4 1.4 0 1 0 2.8 0a1.4 1.4 0 1 0 -2.8 0zM897 757.5a2.5 2.5 0 1 1 5 0a2.5 2.5 0 1 1 -5 0zM898.1 757.5a1.4 1.4 0 1 0 2.8 0a1.4 1.4 0 1 0 -2.8 0zM899 761.5a2.5 2.5 0 1 1 5 0a2.5 2.5 0 1 1 -5 0zM900.1 761.5a1.4 1.4 0 1 0 2.8 0a1.4 1.4 0 1 0 -2.8 0zM902 765.5a2.5 2.5 0 1 1 5 0a2.5 2.5 0 1 1 -5 0zM903.1 765.5a1.4 1.4 0 1 0 2.8 0a1.4 1.4 0 1 0 -2.8 0zM905 769.5a2.5 2.5 0 1 1 5 0a2.5 2.5 0 1 1 -5 0zM906.1 769.5a1.4 1.4 0 1 0 2.8 0a1.4 1.4 0 1 0 -2.8 0zM908 774.5a2.5 2.5 0 1 1 5 0a2.5 2.5 0 1 1 -5 0zM909.1 774.5a1.4 1.4 0 1 0 2.8 0a1.4 1.4 0 1 0 -2.8 0zM911 779.5a2.5 2.5 0 1 1 5 0a2.5 2.5 0 1 1 -5 0zM912.1 779.5a1.4 1.4 0 1 0 2.8 0a1.4 1.4 0 1 0 -2.8 0zM914 784.5a2.5 2.5 0 1 1 5 0a2.5 2.5 0 1 1 -5 0zM915.1 784.5a1.4 1.4 0 1 0 2.8 0a1.4 1.4 0 1 0 -2.8 0zM917 790.5a2.5 2.5 0 1 1 5 0a2.5 2.5 0 1 1 -5 0zM918.1 790.5a1.4 1.4 0 1 0 2.8 0a1.4 1.4 0 1 0 -2.8 0zM920 795.5a2.5 2.5 0 1 1 5 0a2.5 2.5 0 1 1 -5 0zM921.1 795.5a1.4 1.4 0 1 0 2.8 0a1.4 1.4 0 1 0 -2.8 0zM923 802.5a2.5 2.5 0 1 1 5 0a2.5 2.5 0 1 1 -5 0zM924.1 802.5a1.4 1.4 0 1 0 2.8 0a1.4 1.4 0 1 0 -2.8 0zM926 808.5a2.5 2.5 0 1 1 5 0a2.5 2.5 0 1 1 -5 0zM927.1 808.5a1.4 1.4 0 1 0 2.8 0a1.4 1.4 0 1 0 -2.8 0zM929 815.5a2.5 2.5 0 1 1 5 0a2.5 2.5 0 1 1 -5 0zM930.1 815.5a1.4 1.4 0 1 0 2.8 0a1.4 1.4 0 1 0 -2.8 0zM932 823.5a2.5 2.5 0 1 1 5 0a2.5 2.5 0 1 1 -5 0zM933.1 823.5a1.4 1.4 0 1 0 2.8 0a1.4 1.4 0 1 0 -2.8 0zM935 830.5a2.5 2.5 0 1 1 5 0a2.5 2.5 0 1 1 -5 0zM936.1 830.5a1.4 1.4 0 1 0 2.8 0a1.4 1.4 0 1 0 -2.8 0zM937 838.5a2.5 2.5 0 1 1 5 0a2.5 2.5 0 1 1 -5 0zM938.1 838.5a1.4 1.4 0 1 0 2.8 0a1.4 1.4 0 1 0 -2.8 0zM940 845.5a2.5 2.5 0 1 1 5 0a2.5 2.5 0 1 1 -5 0zM941.1 845.5a1.4 1.4 0 1 0 2.8 0a1.4 1.4 0 1 0 -2.8 0zM943 853.5a2.5 2.5 0 1 1 5 0a2.5 2.5 0 1 1 -5 0zM944.1 853.5a1.4 1.4 0 1 0 2.8 0a1.4 1.4 0 1 0 -2.8 0zM946 860.5a2.5 2.5 0 1 1 5 0a2.5 2.5 0 1 1 -5 0zM947.1 860.5a1.4 1.4 0 1 0 2.8 0a1.4 1.4 0 1 0 -2.8 0zM949 867.5a2.5 2.5 0 1 1 5 0a2.5 2.5 0 1 1 -5 0zM950.1 867.5a1.4 1.4 0 1 0 2.8 0a1.4 1.4 0 1 0 -2.8 0zM952 874.5a2.5 2.5 0 1 1 5 0a2.5 2.5 0 1 1 -5 0zM953.1 874.5a1.4 1.4 0 1 0 2.8 0a1.4 1.4 0 1 0 -2.8 0zM955 880.5a2.5 2.5 0 1 1 5 0a2.5 2.5 0 1 1 -5 0zM956.1 880.5a1.4 1.4 0 1 0 2.8 0a1.4 1.4 0 1 0 -2.8 0zM958 885.5a2.5 2.5 0 1 1 5 0a2.5 2.5 0 1 1 -5 0zM959.1 885.5a1.4 1.4 0 1 0 2.8 0a1.4 1.4 0 1 0 -2.8 0zM961 890.5a2.5 2.5 0 1 1 5 0a2.5 2.5 0 1 1 -5 0zM962.1 890.5a1.4 1.4 0 1 0 2.8 0a1.4 1.4 0 1 0 -2.8 0zM964 893.5a2.5 2.5 0 1 1 5 0a2.5 2.5 0 1 1 -5 0zM965.1 893.5a1.4 1.4 0 1 0 2.8 0a1.4 1.4 0 1 0 -2.8 0zM967 896.5a2.5 2.5 0 1 1 5 0a2.5 2.5 0 1 1 -5 0zM968.1 896.5a1.4 1.4 0 1 0 2.8 0a1.4 1.4 0 1 0 -2.8 0zM970 898.5a2.5 2.5 0 1 1 5 0a2.5 2.5 0 1 1 -5 0zM971.1 898.5a1.4 1.4 0 1 0 2.8 0a1.4 1.4 0 1 0 -2.8 0zM973 899.5a2.5 2.5 0 1 1 5 0a2.5 2.5 0 1 1 -5 0zM974.1 899.5a1.4 1.4 0 1 0 2.8 0a1.4 1.4 0 1 0 -2.8 0zM976 899.5a2.5 2.5 0 1 1 5 0a2.5 2.5 0 1 1 -5 0zM977.1 899.5a1.4 1.4 0 1 0 2.8 0a1.4 1.4 0 1 0 -2.8 0z" fill="#ff0000" fill-rule="nonzero"/>
<rect x="924.5" y="526.5" width="50" height="20" fill="#fff" fill-opacity="0.5" stroke="#000" stroke-width="1"/>
<path d="M45.5 92.5v-5M45.5 979.5v5M103.5 92.5v-5M103.5 979.5v5M161.5 92.5v-5M161.5 979.5v5M220.5 92.5v-5M220.5 979.5v5M278.5 92.5v-5M278.5 979.5v5M337.5 92.5v-5M337.5 979.5v5M395.5 92.5v-5M395.5 979.5v5M454.5 92.5v-5M454.5 979.5v5M512.5 92.5v-5M512.5 979.5v5M571.5 92.5v-5M571.5 979.5v5M629.5 92.5v-5M629.5 979.5v5M688.5 92.5v-5M688.5 979.5v5M746.5 92.5v-5M746.5 979.5v5M805.5 92.5v-5M805.5 979.5v5M863.5 92.5v-5M863.5 979.5v5M922.5 92.5v-5M922.5 979.5v5M44.5 931.5h-5M979.5 931.5h5M44.5 852.5h-5M979.5 852.5h5M44.5 773.5h-5M979.5 773.5h5M44.5 694.5h-5M979.5 694.5h5M44.5 615.5h-5M979.5 615.5h5M44.5 536.5h-5M979.5 536.5h5M44.5 457.5h-5M979.5 457.5h5M44.5 378.5h-5M979.5 378.5h5M44.5 299.5h-5M979.5 299.5h5M44.5 220.5h-5M979.5 220.5h5M44.5 141.5h-5M979.5 141.5h5" stroke="#000" stroke-width="1.0" fill="none"/>
<rect x="44.5" y="92.5" width="935" height="887" fill="none" stroke="#000" stroke-width="1.3"/>
<g font-family="'DejaVu Sans', 'Liberation Sans', sans-serif" fill="#000">
<text x="511.7" y="17.6" font-size="16" letter-spacing="0.05" text-anchor="middle">img/whittaker_on_wood_lambda_20000_order_3.png</text>
<text x="512.6" y="46.1" font-size="12" text-anchor="middle">Prices</text>
<g font-size="10" letter-spacing="-0.36" fill="#1c1c1c">
<text x="44.6" y="81.8" text-anchor="middle">0</text>
<text x="44.6" y="996.8" text-anchor="middle">0</text>
<text x="103.1" y="81.8" text-anchor="middle">20</text>
<text x="103.1" y="996.8" text-anchor="middle">20</text>
<text x="161.59" y="81.8" text-anchor="middle">40</text>
<text x="161.59" y="996.8" text-anchor="middle">40</text>
<text x="220.09" y="81.8" text-anchor="middle">60</text>
<text x="220.09" y="996.8" text-anchor="middle">60</text>
<text x="278.59" y="81.8" text-anchor="middle">80</text>
<text x="278.59" y="996.8" text-anchor="middle">80</text>
<text x="337.08" y="81.8" text-anchor="middle">100</text>
<text x="337.08" y="996.8" text-anchor="middle">100</text>
<text x="395.58" y="81.8" text-anchor="middle">120</text>
<text x="395.58" y="996.8" text-anchor="middle">120</text>
<text x="454.07" y="81.8" text-anchor="middle">140</text>
<text x="454.07" y="996.8" text-anchor="middle">140</text>
<text x="512.57" y="81.8" text-anchor="middle">160</text>
<text x="512.57" y="996.8" text-anchor="middle">160</text>
<text x="571.06" y="81.8" text-anchor="middle">180</text>
<text x="571.06" y="996.8" text-anchor="middle">180</text>
<text x="629.56" y="81.8" text-anchor="middle">200</text>
<text x="629.56" y="996.8" text-anchor="middle">200</text>
<text x="688.05" y="81.8" text-anchor="middle">220</text>
<text x="688.05" y="996.8" text-anchor="middle">220</text>
<text x="746.55" y="81.8" text-anchor="middle">240</text>
<text x="746.55" y="996.8" text-anchor="middle">240</text>
<text x="805.04" y="81.8" text-anchor="middle">260</text>
<text x="805.04" y="996.8" text-anchor="middle">260</text>
<text x="863.54" y="81.8" text-anchor="middle">280</text>
<text x="863.54" y="996.8" text-anchor="middle">280</text>
<text x="922.04" y="81.8" text-anchor="middle">300</text>
<text x="922.04" y="996.8" text-anchor="middle">300</text>
<text x="35.3" y="935.2" text-anchor="end">70.00</text>
<text x="1022.0" y="935.2" text-anchor="end">70.00</text>
<text x="35.3" y="856.2" text-anchor="end">75.00</text>
<text x="1022.0" y="856.2" text-anchor="end">75.00</text>
<text x="35.3" y="777.2" text-anchor="end">80.00</text>
<text x="1022.0" y="777.2" text-anchor="end">80.00</text>
<text x="35.3" y="698.2" text-anchor="end">85.00</text>
<text x="1022.0" y="698.2" text-anchor="end">85.00</text>
<text x="35.3" y="619.2" text-anchor="end">90.00</text>
<text x="1022.0" y="619.2" text-anchor="end">90.00</text>
<text x="35.3" y="540.2" text-anchor="end">95.00</text>
<text x="1022.0" y="540.2" text-anchor="end">95.00</text>
<text x="35.3" y="461.2" text-anchor="end">100.00</text>
<text x="1022.0" y="461.2" text-anchor="end">100.00</text>
<text x="35.3" y="382.2" text-anchor="end">105.00</text>
<text x="1022.0" y="382.2" text-anchor="end">105.00</text>
<text x="35.3" y="303.2" text-anchor="end">110.00</text>
<text x="1022.0" y="303.2" text-anchor="end">110.00</text>
<text x="35.3" y="224.2" text-anchor="end">115.00</text>
<text x="1022.0" y="224.2" text-anchor="end">115.00</text>
<text x="35.3" y="145.2" text-anchor="end">120.00</text>
<text x="1022.0" y="145.2" text-anchor="end">120.00</text>
</g></g></svg></body></html>
